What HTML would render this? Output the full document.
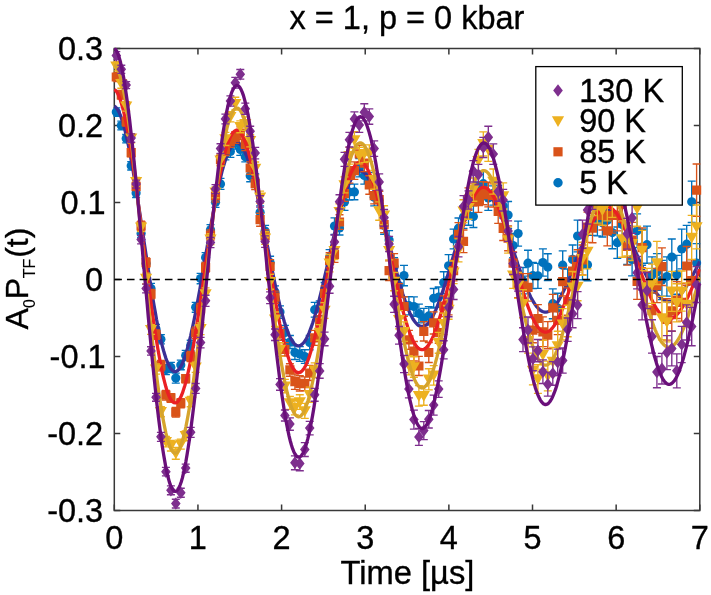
<!DOCTYPE html>
<html><head><meta charset="utf-8"><title>x = 1, p = 0 kbar</title>
<style>html,body{margin:0;padding:0;background:#fff}svg{will-change:transform}svg text{font-family:"Liberation Sans",sans-serif;fill:#000;stroke:#000;stroke-width:0.35px;stroke-linejoin:round}</style>
</head><body>
<svg width="711" height="595" viewBox="0 0 711 595" style="display:block">
<rect width="711" height="595" fill="#fff"/>
<defs><clipPath id="c"><rect x="113.6" y="47.8" width="586.9" height="463.4"/></clipPath></defs>
<rect x="114.3" y="48.5" width="585.5" height="462.0" fill="none" stroke="#383838" stroke-width="1.5"/>
<path d="M114.30 510.5v-6M114.30 48.5v6M197.94 510.5v-6M197.94 48.5v6M281.59 510.5v-6M281.59 48.5v6M365.23 510.5v-6M365.23 48.5v6M448.87 510.5v-6M448.87 48.5v6M532.51 510.5v-6M532.51 48.5v6M616.16 510.5v-6M616.16 48.5v6M699.80 510.5v-6M699.80 48.5v6M114.3 48.50h6M699.8 48.50h-6M114.3 125.50h6M699.8 125.50h-6M114.3 202.50h6M699.8 202.50h-6M114.3 279.50h6M699.8 279.50h-6M114.3 356.50h6M699.8 356.50h-6M114.3 433.50h6M699.8 433.50h-6M114.3 510.50h6M699.8 510.50h-6" stroke="#383838" stroke-width="1.5" fill="none"/>
<g>
<path d="M116.3 107.8v8.5M112.3 107.8h8.0M112.3 116.3h8.0M121.3 121.1v8.8M117.3 121.1h8.0M117.3 129.9h8.0M126.2 134.3v8.6M122.2 134.3h8.0M122.2 142.9h8.0M131.2 161.6v8.4M127.2 161.6h8.0M127.2 170.0h8.0M136.1 188.7v8.7M132.1 188.7h8.0M132.1 197.5h8.0M141.1 229.2v8.6M137.1 229.2h8.0M137.1 237.7h8.0M146.1 258.8v9.3M142.1 258.8h8.0M142.1 268.0h8.0M151.0 283.3v10.1M147.0 283.3h8.0M147.0 293.4h8.0M156.0 324.3v9.2M152.0 324.3h8.0M152.0 333.5h8.0M160.9 334.6v9.3M156.9 334.6h8.0M156.9 343.8h8.0M165.9 364.6v10.0M161.9 364.6h8.0M161.9 374.6h8.0M170.9 362.4v10.1M166.9 362.4h8.0M166.9 372.5h8.0M175.8 373.1v10.1M171.8 373.1h8.0M171.8 383.1h8.0M180.8 360.1v9.6M176.8 360.1h8.0M176.8 369.7h8.0M185.7 350.3v10.3M181.7 350.3h8.0M181.7 360.6h8.0M190.7 340.2v10.9M186.7 340.2h8.0M186.7 351.0h8.0M195.7 302.4v9.7M191.7 302.4h8.0M191.7 312.2h8.0M200.6 273.3v10.4M196.6 273.3h8.0M196.6 283.7h8.0M205.6 252.6v9.6M201.6 252.6h8.0M201.6 262.2h8.0M210.5 224.6v10.2M206.5 224.6h8.0M206.5 234.8h8.0M215.5 197.4v9.9M211.5 197.4h8.0M211.5 207.3h8.0M220.5 178.3v11.1M216.5 178.3h8.0M216.5 189.4h8.0M225.4 149.2v10.6M221.4 149.2h8.0M221.4 159.8h8.0M230.4 145.6v11.8M226.4 145.6h8.0M226.4 157.4h8.0M235.3 137.2v11.9M231.3 137.2h8.0M231.3 149.1h8.0M240.3 143.5v11.8M236.3 143.5h8.0M236.3 155.3h8.0M245.3 151.6v10.3M241.3 151.6h8.0M241.3 161.8h8.0M250.2 169.9v11.9M246.2 169.9h8.0M246.2 181.7h8.0M255.2 173.9v12.4M251.2 173.9h8.0M251.2 186.3h8.0M260.1 205.9v12.7M256.1 205.9h8.0M256.1 218.5h8.0M265.1 225.3v11.6M261.1 225.3h8.0M261.1 236.9h8.0M270.1 256.3v12.6M266.1 256.3h8.0M266.1 268.9h8.0M275.0 285.8v12.3M271.0 285.8h8.0M271.0 298.1h8.0M280.0 305.8v12.6M276.0 305.8h8.0M276.0 318.4h8.0M284.9 325.3v14.3M280.9 325.3h8.0M280.9 339.7h8.0M289.9 335.5v13.0M285.9 335.5h8.0M285.9 348.5h8.0M294.9 345.7v13.8M290.9 345.7h8.0M290.9 359.5h8.0M299.8 346.6v14.8M295.8 346.6h8.0M295.8 361.3h8.0M304.8 349.7v13.7M300.8 349.7h8.0M300.8 363.4h8.0M309.7 335.5v14.3M305.7 335.5h8.0M305.7 349.8h8.0M314.7 302.4v14.7M310.7 302.4h8.0M310.7 317.1h8.0M319.7 300.8v14.9M315.7 300.8h8.0M315.7 315.7h8.0M324.6 282.5v13.9M320.6 282.5h8.0M320.6 296.4h8.0M329.6 249.6v15.3M325.6 249.6h8.0M325.6 264.9h8.0M334.5 217.8v16.7M330.5 217.8h8.0M330.5 234.5h8.0M339.5 220.8v14.2M335.5 220.8h8.0M335.5 235.0h8.0M344.5 193.7v16.7M340.5 193.7h8.0M340.5 210.3h8.0M349.4 183.9v16.2M345.4 183.9h8.0M345.4 200.0h8.0M354.4 184.1v15.7M350.4 184.1h8.0M350.4 199.7h8.0M359.3 158.5v18.5M355.3 158.5h8.0M355.3 176.9h8.0M364.3 166.7v17.5M360.3 166.7h8.0M360.3 184.1h8.0M369.3 172.3v15.7M365.3 172.3h8.0M365.3 188.0h8.0M374.2 188.6v17.3M370.2 188.6h8.0M370.2 205.8h8.0M379.2 191.3v18.0M375.2 191.3h8.0M375.2 209.3h8.0M384.1 216.7v17.5M380.1 216.7h8.0M380.1 234.2h8.0M389.1 230.6v18.6M385.1 230.6h8.0M385.1 249.3h8.0M394.1 257.7v18.1M390.1 257.7h8.0M390.1 275.8h8.0M399.0 276.0v19.1M395.0 276.0h8.0M395.0 295.1h8.0M404.0 265.4v20.2M400.0 265.4h8.0M400.0 285.7h8.0M408.9 296.6v18.1M404.9 296.6h8.0M404.9 314.8h8.0M413.9 296.8v19.4M409.9 296.8h8.0M409.9 316.2h8.0M418.9 304.1v18.9M414.9 304.1h8.0M414.9 322.9h8.0M423.8 308.3v19.8M419.8 308.3h8.0M419.8 328.1h8.0M428.8 306.6v18.5M424.8 306.6h8.0M424.8 325.1h8.0M433.7 288.5v19.5M429.7 288.5h8.0M429.7 308.0h8.0M438.7 287.0v20.2M434.7 287.0h8.0M434.7 307.2h8.0M443.7 271.7v21.9M439.7 271.7h8.0M439.7 293.6h8.0M448.6 254.6v22.5M444.6 254.6h8.0M444.6 277.1h8.0M453.6 229.1v19.6M449.6 229.1h8.0M449.6 248.8h8.0M458.5 218.0v20.6M454.5 218.0h8.0M454.5 238.5h8.0M463.5 205.7v22.8M459.5 205.7h8.0M459.5 228.4h8.0M468.5 205.6v19.5M464.5 205.6h8.0M464.5 225.2h8.0M473.4 205.6v21.9M469.4 205.6h8.0M469.4 227.5h8.0M478.4 174.5v22.7M474.4 174.5h8.0M474.4 197.2h8.0M483.3 171.3v24.9M479.3 171.3h8.0M479.3 196.2h8.0M488.3 185.9v24.4M484.3 185.9h8.0M484.3 210.3h8.0M493.3 181.8v23.3M489.3 181.8h8.0M489.3 205.1h8.0M498.2 185.5v23.5M494.2 185.5h8.0M494.2 209.1h8.0M503.2 194.0v24.0M499.2 194.0h8.0M499.2 218.0h8.0M508.1 201.5v27.0M504.1 201.5h8.0M504.1 228.5h8.0M513.1 233.3v24.4M509.1 233.3h8.0M509.1 257.7h8.0M518.1 221.1v24.9M514.1 221.1h8.0M514.1 246.1h8.0M523.0 267.5v26.3M519.0 267.5h8.0M519.0 293.8h8.0M528.0 250.2v25.9M524.0 250.2h8.0M524.0 276.1h8.0M532.9 262.5v26.1M528.9 262.5h8.0M528.9 288.6h8.0M537.9 263.3v25.0M533.9 263.3h8.0M533.9 288.3h8.0M542.9 248.9v27.2M538.9 248.9h8.0M538.9 276.1h8.0M547.8 253.7v26.8M543.8 253.7h8.0M543.8 280.5h8.0M552.8 288.8v29.9M548.8 288.8h8.0M548.8 318.7h8.0M557.7 293.2v29.4M553.7 293.2h8.0M553.7 322.7h8.0M562.7 250.9v28.7M558.7 250.9h8.0M558.7 279.6h8.0M567.7 269.0v30.2M563.7 269.0h8.0M563.7 299.2h8.0M572.6 245.0v28.9M568.6 245.0h8.0M568.6 273.9h8.0M577.6 220.1v31.8M573.6 220.1h8.0M573.6 251.9h8.0M582.5 249.5v30.3M578.5 249.5h8.0M578.5 279.7h8.0M587.5 248.9v31.8M583.5 248.9h8.0M583.5 280.7h8.0M592.5 206.6v28.7M588.5 206.6h8.0M588.5 235.3h8.0M597.4 203.7v32.2M593.4 203.7h8.0M593.4 235.9h8.0M602.4 208.3v28.7M598.4 208.3h8.0M598.4 237.0h8.0M607.3 206.0v28.4M603.3 206.0h8.0M603.3 234.5h8.0M612.3 216.5v32.2M608.3 216.5h8.0M608.3 248.7h8.0M617.3 227.0v31.5M613.3 227.0h8.0M613.3 258.4h8.0M622.2 207.4v34.1M618.2 207.4h8.0M618.2 241.4h8.0M627.2 225.7v38.8M623.2 225.7h8.0M623.2 264.5h8.0M632.1 243.0v32.9M628.1 243.0h8.0M628.1 275.9h8.0M637.1 213.8v33.8M633.1 213.8h8.0M633.1 247.6h8.0M642.1 229.2v36.0M638.1 229.2h8.0M638.1 265.2h8.0M647.0 226.1v37.2M643.0 226.1h8.0M643.0 263.2h8.0M652.0 256.8v36.2M648.0 256.8h8.0M648.0 293.0h8.0M656.9 253.6v36.6M652.9 253.6h8.0M652.9 290.2h8.0M661.9 260.4v39.2M657.9 260.4h8.0M657.9 299.6h8.0M666.9 256.9v39.3M662.9 256.9h8.0M662.9 296.1h8.0M671.8 239.0v36.2M667.8 239.0h8.0M667.8 275.2h8.0M676.8 255.3v38.9M672.8 255.3h8.0M672.8 294.2h8.0M681.7 229.1v39.8M677.7 229.1h8.0M677.7 268.9h8.0M686.7 225.4v37.7M682.7 225.4h8.0M682.7 263.1h8.0M691.7 181.1v41.4M687.7 181.1h8.0M687.7 222.5h8.0M696.6 243.6v39.2M692.6 243.6h8.0M692.6 282.7h8.0" stroke="#0072BD" stroke-width="1.35" fill="none" clip-path="url(#c)"/>
<g fill="#0072BD"><circle cx="116.3" cy="112.0" r="4.6"/><circle cx="121.3" cy="125.5" r="4.6"/><circle cx="126.2" cy="138.6" r="4.6"/><circle cx="131.2" cy="165.8" r="4.6"/><circle cx="136.1" cy="193.1" r="4.6"/><circle cx="141.1" cy="233.5" r="4.6"/><circle cx="146.1" cy="263.4" r="4.6"/><circle cx="151.0" cy="288.4" r="4.6"/><circle cx="156.0" cy="328.9" r="4.6"/><circle cx="160.9" cy="339.2" r="4.6"/><circle cx="165.9" cy="369.6" r="4.6"/><circle cx="170.9" cy="367.4" r="4.6"/><circle cx="175.8" cy="378.1" r="4.6"/><circle cx="180.8" cy="364.9" r="4.6"/><circle cx="185.7" cy="355.5" r="4.6"/><circle cx="190.7" cy="345.6" r="4.6"/><circle cx="195.7" cy="307.3" r="4.6"/><circle cx="200.6" cy="278.5" r="4.6"/><circle cx="205.6" cy="257.4" r="4.6"/><circle cx="210.5" cy="229.7" r="4.6"/><circle cx="215.5" cy="202.3" r="4.6"/><circle cx="220.5" cy="183.9" r="4.6"/><circle cx="225.4" cy="154.5" r="4.6"/><circle cx="230.4" cy="151.5" r="4.6"/><circle cx="235.3" cy="143.2" r="4.6"/><circle cx="240.3" cy="149.4" r="4.6"/><circle cx="245.3" cy="156.7" r="4.6"/><circle cx="250.2" cy="175.8" r="4.6"/><circle cx="255.2" cy="180.1" r="4.6"/><circle cx="260.1" cy="212.2" r="4.6"/><circle cx="265.1" cy="231.1" r="4.6"/><circle cx="270.1" cy="262.6" r="4.6"/><circle cx="275.0" cy="291.9" r="4.6"/><circle cx="280.0" cy="312.1" r="4.6"/><circle cx="284.9" cy="332.5" r="4.6"/><circle cx="289.9" cy="342.0" r="4.6"/><circle cx="294.9" cy="352.6" r="4.6"/><circle cx="299.8" cy="354.0" r="4.6"/><circle cx="304.8" cy="356.5" r="4.6"/><circle cx="309.7" cy="342.6" r="4.6"/><circle cx="314.7" cy="309.7" r="4.6"/><circle cx="319.7" cy="308.2" r="4.6"/><circle cx="324.6" cy="289.4" r="4.6"/><circle cx="329.6" cy="257.2" r="4.6"/><circle cx="334.5" cy="226.1" r="4.6"/><circle cx="339.5" cy="227.9" r="4.6"/><circle cx="344.5" cy="202.0" r="4.6"/><circle cx="349.4" cy="192.0" r="4.6"/><circle cx="354.4" cy="191.9" r="4.6"/><circle cx="359.3" cy="167.7" r="4.6"/><circle cx="364.3" cy="175.4" r="4.6"/><circle cx="369.3" cy="180.2" r="4.6"/><circle cx="374.2" cy="197.2" r="4.6"/><circle cx="379.2" cy="200.3" r="4.6"/><circle cx="384.1" cy="225.5" r="4.6"/><circle cx="389.1" cy="240.0" r="4.6"/><circle cx="394.1" cy="266.8" r="4.6"/><circle cx="399.0" cy="285.6" r="4.6"/><circle cx="404.0" cy="275.6" r="4.6"/><circle cx="408.9" cy="305.7" r="4.6"/><circle cx="413.9" cy="306.5" r="4.6"/><circle cx="418.9" cy="313.5" r="4.6"/><circle cx="423.8" cy="318.2" r="4.6"/><circle cx="428.8" cy="315.9" r="4.6"/><circle cx="433.7" cy="298.3" r="4.6"/><circle cx="438.7" cy="297.1" r="4.6"/><circle cx="443.7" cy="282.6" r="4.6"/><circle cx="448.6" cy="265.8" r="4.6"/><circle cx="453.6" cy="238.9" r="4.6"/><circle cx="458.5" cy="228.2" r="4.6"/><circle cx="463.5" cy="217.1" r="4.6"/><circle cx="468.5" cy="215.4" r="4.6"/><circle cx="473.4" cy="216.5" r="4.6"/><circle cx="478.4" cy="185.8" r="4.6"/><circle cx="483.3" cy="183.7" r="4.6"/><circle cx="488.3" cy="198.1" r="4.6"/><circle cx="493.3" cy="193.4" r="4.6"/><circle cx="498.2" cy="197.3" r="4.6"/><circle cx="503.2" cy="206.0" r="4.6"/><circle cx="508.1" cy="215.0" r="4.6"/><circle cx="513.1" cy="245.5" r="4.6"/><circle cx="518.1" cy="233.6" r="4.6"/><circle cx="523.0" cy="280.7" r="4.6"/><circle cx="528.0" cy="263.2" r="4.6"/><circle cx="532.9" cy="275.6" r="4.6"/><circle cx="537.9" cy="275.8" r="4.6"/><circle cx="542.9" cy="262.5" r="4.6"/><circle cx="547.8" cy="267.1" r="4.6"/><circle cx="552.8" cy="303.7" r="4.6"/><circle cx="557.7" cy="308.0" r="4.6"/><circle cx="562.7" cy="265.2" r="4.6"/><circle cx="567.7" cy="284.1" r="4.6"/><circle cx="572.6" cy="259.4" r="4.6"/><circle cx="577.6" cy="236.0" r="4.6"/><circle cx="582.5" cy="264.6" r="4.6"/><circle cx="587.5" cy="264.8" r="4.6"/><circle cx="592.5" cy="221.0" r="4.6"/><circle cx="597.4" cy="219.8" r="4.6"/><circle cx="602.4" cy="222.7" r="4.6"/><circle cx="607.3" cy="220.3" r="4.6"/><circle cx="612.3" cy="232.6" r="4.6"/><circle cx="617.3" cy="242.7" r="4.6"/><circle cx="622.2" cy="224.4" r="4.6"/><circle cx="627.2" cy="245.1" r="4.6"/><circle cx="632.1" cy="259.4" r="4.6"/><circle cx="637.1" cy="230.7" r="4.6"/><circle cx="642.1" cy="247.2" r="4.6"/><circle cx="647.0" cy="244.7" r="4.6"/><circle cx="652.0" cy="274.9" r="4.6"/><circle cx="656.9" cy="271.9" r="4.6"/><circle cx="661.9" cy="280.0" r="4.6"/><circle cx="666.9" cy="276.5" r="4.6"/><circle cx="671.8" cy="257.1" r="4.6"/><circle cx="676.8" cy="274.8" r="4.6"/><circle cx="681.7" cy="249.0" r="4.6"/><circle cx="686.7" cy="244.2" r="4.6"/><circle cx="691.7" cy="201.8" r="4.6"/><circle cx="696.6" cy="263.1" r="4.6"/></g>
<polyline points="114.3,106.3 115.5,107.0 116.6,108.2 117.8,109.9 119.0,112.1 120.2,114.8 121.3,117.9 122.5,121.4 123.7,125.4 124.9,129.8 126.0,134.6 127.2,139.8 128.4,145.3 129.6,151.2 130.7,157.4 131.9,163.8 133.1,170.6 134.2,177.6 135.4,184.7 136.6,192.1 137.8,199.6 138.9,207.3 140.1,215.1 141.3,222.9 142.5,230.8 143.6,238.7 144.8,246.6 146.0,254.5 147.2,262.3 148.3,270.0 149.5,277.6 150.7,285.1 151.8,292.4 153.0,299.4 154.2,306.3 155.4,312.9 156.5,319.3 157.7,325.4 158.9,331.1 160.1,336.6 161.2,341.7 162.4,346.4 163.6,350.8 164.8,354.8 165.9,358.3 167.1,361.5 168.3,364.3 169.4,366.6 170.6,368.5 171.8,369.9 173.0,370.9 174.1,371.5 175.3,371.6 176.5,371.3 177.7,370.6 178.8,369.4 180.0,367.8 181.2,365.8 182.4,363.4 183.5,360.6 184.7,357.4 185.9,353.8 187.0,349.9 188.2,345.6 189.4,341.0 190.6,336.1 191.7,330.9 192.9,325.5 194.1,319.8 195.3,313.9 196.4,307.8 197.6,301.5 198.8,295.1 200.0,288.5 201.1,281.8 202.3,275.0 203.5,268.2 204.6,261.4 205.8,254.5 207.0,247.7 208.2,240.9 209.3,234.1 210.5,227.5 211.7,220.9 212.9,214.5 214.0,208.3 215.2,202.2 216.4,196.4 217.6,190.7 218.7,185.3 219.9,180.2 221.1,175.3 222.2,170.7 223.4,166.5 224.6,162.5 225.8,158.9 226.9,155.6 228.1,152.6 229.3,150.1 230.5,147.9 231.6,146.1 232.8,144.6 234.0,143.5 235.2,142.9 236.3,142.6 237.5,142.7 238.7,143.1 239.8,144.0 241.0,145.2 242.2,146.8 243.4,148.8 244.5,151.1 245.7,153.8 246.9,156.7 248.1,160.0 249.2,163.6 250.4,167.5 251.6,171.7 252.8,176.2 253.9,180.8 255.1,185.7 256.3,190.8 257.4,196.1 258.6,201.6 259.8,207.2 261.0,213.0 262.1,218.8 263.3,224.7 264.5,230.7 265.7,236.8 266.8,242.8 268.0,248.9 269.2,254.9 270.4,260.9 271.5,266.8 272.7,272.6 273.9,278.3 275.0,283.9 276.2,289.4 277.4,294.7 278.6,299.8 279.7,304.7 280.9,309.4 282.1,313.9 283.3,318.1 284.4,322.0 285.6,325.7 286.8,329.1 288.0,332.3 289.1,335.1 290.3,337.6 291.5,339.7 292.6,341.6 293.8,343.1 295.0,344.3 296.2,345.1 297.3,345.7 298.5,345.8 299.7,345.7 300.9,345.2 302.0,344.4 303.2,343.2 304.4,341.8 305.6,340.0 306.7,337.9 307.9,335.5 309.1,332.8 310.2,329.9 311.4,326.7 312.6,323.3 313.8,319.6 314.9,315.7 316.1,311.6 317.3,307.2 318.5,302.8 319.6,298.1 320.8,293.4 322.0,288.5 323.2,283.5 324.3,278.4 325.5,273.2 326.7,268.0 327.8,262.8 329.0,257.5 330.2,252.3 331.4,247.1 332.5,242.0 333.7,236.9 334.9,231.9 336.1,226.9 337.2,222.1 338.4,217.5 339.6,213.0 340.8,208.6 341.9,204.5 343.1,200.5 344.3,196.7 345.4,193.2 346.6,189.8 347.8,186.8 349.0,183.9 350.1,181.4 351.3,179.1 352.5,177.1 353.7,175.3 354.8,173.9 356.0,172.7 357.2,171.8 358.4,171.3 359.5,171.0 360.7,171.0 361.9,171.3 363.0,171.9 364.2,172.8 365.4,173.9 366.6,175.4 367.7,177.1 368.9,179.1 370.1,181.3 371.3,183.8 372.4,186.5 373.6,189.4 374.8,192.6 376.0,195.9 377.1,199.5 378.3,203.2 379.5,207.1 380.6,211.1 381.8,215.2 383.0,219.5 384.2,223.9 385.3,228.3 386.5,232.8 387.7,237.4 388.9,242.0 390.0,246.7 391.2,251.3 392.4,255.9 393.6,260.5 394.7,265.0 395.9,269.5 397.1,273.9 398.2,278.2 399.4,282.4 400.6,286.5 401.8,290.4 402.9,294.2 404.1,297.9 405.3,301.3 406.5,304.6 407.6,307.7 408.8,310.5 410.0,313.2 411.2,315.6 412.3,317.8 413.5,319.8 414.7,321.5 415.9,323.0 417.0,324.2 418.2,325.2 419.4,325.9 420.5,326.3 421.7,326.5 422.9,326.5 424.1,326.1 425.2,325.6 426.4,324.8 427.6,323.7 428.8,322.4 429.9,320.9 431.1,319.1 432.3,317.1 433.5,314.9 434.6,312.5 435.8,309.9 437.0,307.1 438.1,304.2 439.3,301.1 440.5,297.8 441.7,294.4 442.8,290.9 444.0,287.3 445.2,283.6 446.4,279.8 447.5,275.9 448.7,272.0 449.9,268.0 451.1,264.0 452.2,260.0 453.4,256.0 454.6,252.0 455.7,248.1 456.9,244.2 458.1,240.3 459.3,236.6 460.4,232.9 461.6,229.3 462.8,225.8 464.0,222.5 465.1,219.3 466.3,216.2 467.5,213.3 468.7,210.5 469.8,208.0 471.0,205.6 472.2,203.4 473.3,201.4 474.5,199.6 475.7,198.0 476.9,196.6 478.0,195.5 479.2,194.5 480.4,193.8 481.6,193.3 482.7,193.1 483.9,193.0 485.1,193.2 486.3,193.6 487.4,194.3 488.6,195.1 489.8,196.2 490.9,197.4 492.1,198.9 493.3,200.6 494.5,202.4 495.6,204.5 496.8,206.7 498.0,209.1 499.2,211.6 500.3,214.3 501.5,217.1 502.7,220.0 503.9,223.1 505.0,226.3 506.2,229.5 507.4,232.8 508.5,236.2 509.7,239.7 510.9,243.2 512.1,246.7 513.2,250.2 514.4,253.8 515.6,257.3 516.8,260.8 517.9,264.3 519.1,267.7 520.3,271.1 521.5,274.4 522.6,277.7 523.8,280.8 525.0,283.9 526.1,286.8 527.3,289.6 528.5,292.3 529.7,294.8 530.8,297.2 532.0,299.4 533.2,301.5 534.4,303.4 535.5,305.1 536.7,306.7 537.9,308.0 539.1,309.2 540.2,310.2 541.4,311.0 542.6,311.5 543.7,311.9 544.9,312.1 546.1,312.1 547.3,311.9 548.4,311.5 549.6,311.0 550.8,310.2 552.0,309.2 553.1,308.1 554.3,306.8 555.5,305.3 556.7,303.7 557.8,301.9 559.0,299.9 560.2,297.8 561.3,295.6 562.5,293.3 563.7,290.8 564.9,288.2 566.0,285.6 567.2,282.8 568.4,280.0 569.6,277.1 570.7,274.2 571.9,271.2 573.1,268.2 574.3,265.1 575.4,262.1 576.6,259.0 577.8,256.0 578.9,252.9 580.1,249.9 581.3,247.0 582.5,244.1 583.6,241.3 584.8,238.5 586.0,235.9 587.2,233.3 588.3,230.8 589.5,228.4 590.7,226.2 591.9,224.1 593.0,222.1 594.2,220.2 595.4,218.5 596.5,217.0 597.7,215.6 598.9,214.3 600.1,213.2 601.2,212.3 602.4,211.6 603.6,211.0 604.8,210.6 605.9,210.3 607.1,210.3 608.3,210.4 609.5,210.7 610.6,211.1 611.8,211.7 613.0,212.5 614.1,213.4 615.3,214.5 616.5,215.8 617.7,217.2 618.8,218.7 620.0,220.4 621.2,222.2 622.4,224.1 623.5,226.1 624.7,228.2 625.9,230.5 627.1,232.8 628.2,235.2 629.4,237.7 630.6,240.2 631.7,242.8 632.9,245.4 634.1,248.1 635.3,250.8 636.4,253.5 637.6,256.2 638.8,258.9 640.0,261.6 641.1,264.3 642.3,266.9 643.5,269.5 644.7,272.1 645.8,274.6 647.0,277.0 648.2,279.3 649.3,281.6 650.5,283.7 651.7,285.8 652.9,287.8 654.0,289.6 655.2,291.4 656.4,293.0 657.6,294.5 658.7,295.8 659.9,297.0 661.1,298.1 662.3,299.0 663.4,299.8 664.6,300.5 665.8,300.9 666.9,301.3 668.1,301.5 669.3,301.5 670.5,301.4 671.6,301.1 672.8,300.7 674.0,300.2 675.2,299.5 676.3,298.6 677.5,297.7 678.7,296.6 679.9,295.3 681.0,294.0 682.2,292.5 683.4,291.0 684.5,289.3 685.7,287.5 686.9,285.6 688.1,283.7 689.2,281.7 690.4,279.6 691.6,277.5 692.8,275.3 693.9,273.0 695.1,270.7 696.3,268.4 697.5,266.1 698.6,263.8 699.8,261.5" fill="none" stroke="#3B3096" stroke-width="3.3" stroke-linejoin="round" clip-path="url(#c)"/>
<path d="M116.3 72.5v9.0M112.3 72.5h8.0M112.3 81.5h8.0M121.3 90.5v8.6M117.3 90.5h8.0M117.3 99.1h8.0M126.2 117.3v8.7M122.2 117.3h8.0M122.2 126.1h8.0M131.2 148.6v8.1M127.2 148.6h8.0M127.2 156.7h8.0M136.1 181.9v8.7M132.1 181.9h8.0M132.1 190.6h8.0M141.1 221.1v9.5M137.1 221.1h8.0M137.1 230.6h8.0M146.1 258.0v9.2M142.1 258.0h8.0M142.1 267.2h8.0M151.0 289.5v9.4M147.0 289.5h8.0M147.0 298.9h8.0M156.0 329.9v9.3M152.0 329.9h8.0M152.0 339.2h8.0M160.9 360.5v10.3M156.9 360.5h8.0M156.9 370.8h8.0M165.9 390.4v9.7M161.9 390.4h8.0M161.9 400.1h8.0M170.9 393.6v8.6M166.9 393.6h8.0M166.9 402.2h8.0M175.8 407.4v9.6M171.8 407.4h8.0M171.8 417.0h8.0M180.8 398.7v9.0M176.8 398.7h8.0M176.8 407.7h8.0M185.7 374.6v8.3M181.7 374.6h8.0M181.7 382.9h8.0M190.7 351.5v10.1M186.7 351.5h8.0M186.7 361.6h8.0M195.7 327.1v11.4M191.7 327.1h8.0M191.7 338.5h8.0M200.6 303.5v10.7M196.6 303.5h8.0M196.6 314.3h8.0M205.6 262.3v10.1M201.6 262.3h8.0M201.6 272.4h8.0M210.5 229.8v10.4M206.5 229.8h8.0M206.5 240.2h8.0M215.5 190.1v11.9M211.5 190.1h8.0M211.5 202.0h8.0M220.5 153.9v11.4M216.5 153.9h8.0M216.5 165.3h8.0M225.4 144.1v11.5M221.4 144.1h8.0M221.4 155.6h8.0M230.4 135.6v11.6M226.4 135.6h8.0M226.4 147.2h8.0M235.3 131.6v11.8M231.3 131.6h8.0M231.3 143.4h8.0M240.3 126.9v12.5M236.3 126.9h8.0M236.3 139.4h8.0M245.3 138.1v12.5M241.3 138.1h8.0M241.3 150.6h8.0M250.2 161.8v12.4M246.2 161.8h8.0M246.2 174.2h8.0M255.2 177.9v11.6M251.2 177.9h8.0M251.2 189.5h8.0M260.1 213.2v13.0M256.1 213.2h8.0M256.1 226.2h8.0M265.1 229.8v12.2M261.1 229.8h8.0M261.1 242.0h8.0M270.1 259.6v13.8M266.1 259.6h8.0M266.1 273.4h8.0M275.0 291.1v12.1M271.0 291.1h8.0M271.0 303.2h8.0M280.0 327.1v13.2M276.0 327.1h8.0M276.0 340.3h8.0M284.9 342.6v13.5M280.9 342.6h8.0M280.9 356.0h8.0M289.9 363.7v12.6M285.9 363.7h8.0M285.9 376.2h8.0M294.9 374.0v15.3M290.9 374.0h8.0M290.9 389.3h8.0M299.8 375.7v15.3M295.8 375.7h8.0M295.8 391.0h8.0M304.8 376.8v13.8M300.8 376.8h8.0M300.8 390.6h8.0M309.7 365.4v15.1M305.7 365.4h8.0M305.7 380.5h8.0M314.7 330.3v14.9M310.7 330.3h8.0M310.7 345.3h8.0M319.7 315.9v12.5M315.7 315.9h8.0M315.7 328.3h8.0M324.6 285.8v15.2M320.6 285.8h8.0M320.6 301.1h8.0M329.6 252.7v15.2M325.6 252.7h8.0M325.6 267.9h8.0M334.5 246.8v15.5M330.5 246.8h8.0M330.5 262.3h8.0M339.5 214.7v14.6M335.5 214.7h8.0M335.5 229.3h8.0M344.5 185.8v15.6M340.5 185.8h8.0M340.5 201.4h8.0M349.4 167.3v15.9M345.4 167.3h8.0M345.4 183.1h8.0M354.4 161.9v17.4M350.4 161.9h8.0M350.4 179.3h8.0M359.3 145.4v16.8M355.3 145.4h8.0M355.3 162.2h8.0M364.3 154.8v16.7M360.3 154.8h8.0M360.3 171.6h8.0M369.3 175.7v18.5M365.3 175.7h8.0M365.3 194.2h8.0M374.2 187.3v16.6M370.2 187.3h8.0M370.2 203.9h8.0M379.2 191.2v17.0M375.2 191.2h8.0M375.2 208.2h8.0M384.1 216.9v15.7M380.1 216.9h8.0M380.1 232.6h8.0M389.1 260.9v19.6M385.1 260.9h8.0M385.1 280.5h8.0M394.1 253.6v19.2M390.1 253.6h8.0M390.1 272.8h8.0M399.0 283.6v19.4M395.0 283.6h8.0M395.0 303.0h8.0M404.0 296.8v19.4M400.0 296.8h8.0M400.0 316.2h8.0M408.9 330.4v19.0M404.9 330.4h8.0M404.9 349.4h8.0M413.9 341.5v19.4M409.9 341.5h8.0M409.9 360.9h8.0M418.9 356.4v19.1M414.9 356.4h8.0M414.9 375.5h8.0M423.8 321.6v19.4M419.8 321.6h8.0M419.8 341.0h8.0M428.8 342.5v20.0M424.8 342.5h8.0M424.8 362.5h8.0M433.7 311.9v22.0M429.7 311.9h8.0M429.7 334.0h8.0M438.7 322.1v21.2M434.7 322.1h8.0M434.7 343.2h8.0M443.7 295.8v20.7M439.7 295.8h8.0M439.7 316.5h8.0M448.6 294.5v20.3M444.6 294.5h8.0M444.6 314.9h8.0M453.6 260.4v20.5M449.6 260.4h8.0M449.6 280.9h8.0M458.5 222.6v23.7M454.5 222.6h8.0M454.5 246.3h8.0M463.5 230.0v22.6M459.5 230.0h8.0M459.5 252.6h8.0M468.5 187.9v22.3M464.5 187.9h8.0M464.5 210.2h8.0M473.4 183.9v22.0M469.4 183.9h8.0M469.4 205.9h8.0M478.4 191.1v21.3M474.4 191.1h8.0M474.4 212.4h8.0M483.3 181.7v23.0M479.3 181.7h8.0M479.3 204.7h8.0M488.3 182.2v24.7M484.3 182.2h8.0M484.3 206.9h8.0M493.3 183.9v23.2M489.3 183.9h8.0M489.3 207.1h8.0M498.2 199.6v23.7M494.2 199.6h8.0M494.2 223.3h8.0M503.2 216.5v24.1M499.2 216.5h8.0M499.2 240.5h8.0M508.1 225.8v24.9M504.1 225.8h8.0M504.1 250.7h8.0M513.1 251.9v22.7M509.1 251.9h8.0M509.1 274.6h8.0M518.1 272.5v25.1M514.1 272.5h8.0M514.1 297.6h8.0M523.0 273.6v24.4M519.0 273.6h8.0M519.0 298.0h8.0M528.0 273.6v27.5M524.0 273.6h8.0M524.0 301.1h8.0M532.9 317.5v25.2M528.9 317.5h8.0M528.9 342.7h8.0M537.9 304.6v27.7M533.9 304.6h8.0M533.9 332.3h8.0M542.9 316.9v29.7M538.9 316.9h8.0M538.9 346.6h8.0M547.8 321.6v27.0M543.8 321.6h8.0M543.8 348.7h8.0M552.8 294.4v26.9M548.8 294.4h8.0M548.8 321.3h8.0M557.7 305.9v28.6M553.7 305.9h8.0M553.7 334.6h8.0M562.7 267.3v28.7M558.7 267.3h8.0M558.7 296.0h8.0M567.7 287.9v27.3M563.7 287.9h8.0M563.7 315.2h8.0M572.6 256.1v30.3M568.6 256.1h8.0M568.6 286.3h8.0M577.6 249.7v33.5M573.6 249.7h8.0M573.6 283.2h8.0M582.5 245.0v29.8M578.5 245.0h8.0M578.5 274.9h8.0M587.5 212.1v30.3M583.5 212.1h8.0M583.5 242.4h8.0M592.5 213.5v29.2M588.5 213.5h8.0M588.5 242.7h8.0M597.4 192.7v32.1M593.4 192.7h8.0M593.4 224.9h8.0M602.4 200.5v29.6M598.4 200.5h8.0M598.4 230.0h8.0M607.3 215.7v30.2M603.3 215.7h8.0M603.3 245.9h8.0M612.3 197.8v35.4M608.3 197.8h8.0M608.3 233.1h8.0M617.3 199.5v31.5M613.3 199.5h8.0M613.3 230.9h8.0M622.2 186.4v35.9M618.2 186.4h8.0M618.2 222.3h8.0M627.2 227.8v37.3M623.2 227.8h8.0M623.2 265.1h8.0M632.1 222.4v35.2M628.1 222.4h8.0M628.1 257.6h8.0M637.1 263.1v36.3M633.1 263.1h8.0M633.1 299.4h8.0M642.1 227.9v39.8M638.1 227.9h8.0M638.1 267.6h8.0M647.0 272.0v35.7M643.0 272.0h8.0M643.0 307.7h8.0M652.0 292.9v35.3M648.0 292.9h8.0M648.0 328.2h8.0M656.9 268.5v34.1M652.9 268.5h8.0M652.9 302.6h8.0M661.9 247.9v37.7M657.9 247.9h8.0M657.9 285.5h8.0M666.9 298.7v41.5M662.9 298.7h8.0M662.9 340.1h8.0M671.8 290.5v40.8M667.8 290.5h8.0M667.8 331.3h8.0M676.8 281.6v36.9M672.8 281.6h8.0M672.8 318.5h8.0M681.7 283.5v37.6M677.7 283.5h8.0M677.7 321.1h8.0M686.7 246.5v39.0M682.7 246.5h8.0M682.7 285.4h8.0M691.7 259.8v41.5M687.7 259.8h8.0M687.7 301.2h8.0M696.6 164.0v52.4M692.6 164.0h8.0M692.6 216.4h8.0" stroke="#D95319" stroke-width="1.35" fill="none" clip-path="url(#c)"/>
<path d="M111.7 72.4h9.2v9.2h-9.2zM116.7 90.2h9.2v9.2h-9.2zM121.6 117.1h9.2v9.2h-9.2zM126.6 148.1h9.2v9.2h-9.2zM131.5 181.7h9.2v9.2h-9.2zM136.5 221.3h9.2v9.2h-9.2zM141.5 258.0h9.2v9.2h-9.2zM146.4 289.6h9.2v9.2h-9.2zM151.4 330.0h9.2v9.2h-9.2zM156.3 361.0h9.2v9.2h-9.2zM161.3 390.6h9.2v9.2h-9.2zM166.3 393.3h9.2v9.2h-9.2zM171.2 407.6h9.2v9.2h-9.2zM176.2 398.6h9.2v9.2h-9.2zM181.1 374.1h9.2v9.2h-9.2zM186.1 352.0h9.2v9.2h-9.2zM191.1 328.2h9.2v9.2h-9.2zM196.0 304.3h9.2v9.2h-9.2zM201.0 262.8h9.2v9.2h-9.2zM205.9 230.4h9.2v9.2h-9.2zM210.9 191.4h9.2v9.2h-9.2zM215.9 155.0h9.2v9.2h-9.2zM220.8 145.2h9.2v9.2h-9.2zM225.8 136.8h9.2v9.2h-9.2zM230.7 132.9h9.2v9.2h-9.2zM235.7 128.6h9.2v9.2h-9.2zM240.7 139.8h9.2v9.2h-9.2zM245.6 163.4h9.2v9.2h-9.2zM250.6 179.1h9.2v9.2h-9.2zM255.5 215.1h9.2v9.2h-9.2zM260.5 231.3h9.2v9.2h-9.2zM265.5 261.9h9.2v9.2h-9.2zM270.4 292.6h9.2v9.2h-9.2zM275.4 329.1h9.2v9.2h-9.2zM280.3 344.7h9.2v9.2h-9.2zM285.3 365.3h9.2v9.2h-9.2zM290.3 377.1h9.2v9.2h-9.2zM295.2 378.7h9.2v9.2h-9.2zM300.2 379.1h9.2v9.2h-9.2zM305.1 368.4h9.2v9.2h-9.2zM310.1 333.2h9.2v9.2h-9.2zM315.1 317.5h9.2v9.2h-9.2zM320.0 288.8h9.2v9.2h-9.2zM325.0 255.7h9.2v9.2h-9.2zM329.9 249.9h9.2v9.2h-9.2zM334.9 217.4h9.2v9.2h-9.2zM339.9 189.0h9.2v9.2h-9.2zM344.8 170.6h9.2v9.2h-9.2zM349.8 166.0h9.2v9.2h-9.2zM354.7 149.2h9.2v9.2h-9.2zM359.7 158.6h9.2v9.2h-9.2zM364.7 180.4h9.2v9.2h-9.2zM369.6 191.0h9.2v9.2h-9.2zM374.6 195.1h9.2v9.2h-9.2zM379.5 220.1h9.2v9.2h-9.2zM384.5 266.1h9.2v9.2h-9.2zM389.5 258.6h9.2v9.2h-9.2zM394.4 288.7h9.2v9.2h-9.2zM399.4 301.9h9.2v9.2h-9.2zM404.3 335.3h9.2v9.2h-9.2zM409.3 346.6h9.2v9.2h-9.2zM414.3 361.4h9.2v9.2h-9.2zM419.2 326.7h9.2v9.2h-9.2zM424.2 347.9h9.2v9.2h-9.2zM429.1 318.3h9.2v9.2h-9.2zM434.1 328.1h9.2v9.2h-9.2zM439.1 301.6h9.2v9.2h-9.2zM444.0 300.1h9.2v9.2h-9.2zM449.0 266.0h9.2v9.2h-9.2zM453.9 229.8h9.2v9.2h-9.2zM458.9 236.7h9.2v9.2h-9.2zM463.9 194.5h9.2v9.2h-9.2zM468.8 190.3h9.2v9.2h-9.2zM473.8 197.1h9.2v9.2h-9.2zM478.7 188.6h9.2v9.2h-9.2zM483.7 190.0h9.2v9.2h-9.2zM488.7 190.9h9.2v9.2h-9.2zM493.6 206.8h9.2v9.2h-9.2zM498.6 223.9h9.2v9.2h-9.2zM503.5 233.6h9.2v9.2h-9.2zM508.5 258.6h9.2v9.2h-9.2zM513.5 280.4h9.2v9.2h-9.2zM518.4 281.2h9.2v9.2h-9.2zM523.4 282.7h9.2v9.2h-9.2zM528.3 325.5h9.2v9.2h-9.2zM533.3 313.9h9.2v9.2h-9.2zM538.3 327.2h9.2v9.2h-9.2zM543.2 330.6h9.2v9.2h-9.2zM548.2 303.2h9.2v9.2h-9.2zM553.1 315.7h9.2v9.2h-9.2zM558.1 277.0h9.2v9.2h-9.2zM563.1 296.9h9.2v9.2h-9.2zM568.0 266.6h9.2v9.2h-9.2zM573.0 261.9h9.2v9.2h-9.2zM577.9 255.4h9.2v9.2h-9.2zM582.9 222.6h9.2v9.2h-9.2zM587.9 223.5h9.2v9.2h-9.2zM592.8 204.2h9.2v9.2h-9.2zM597.8 210.7h9.2v9.2h-9.2zM602.7 226.2h9.2v9.2h-9.2zM607.7 210.8h9.2v9.2h-9.2zM612.7 210.6h9.2v9.2h-9.2zM617.6 199.7h9.2v9.2h-9.2zM622.6 241.9h9.2v9.2h-9.2zM627.5 235.4h9.2v9.2h-9.2zM632.5 276.7h9.2v9.2h-9.2zM637.5 243.1h9.2v9.2h-9.2zM642.4 285.2h9.2v9.2h-9.2zM647.4 306.0h9.2v9.2h-9.2zM652.3 281.0h9.2v9.2h-9.2zM657.3 262.1h9.2v9.2h-9.2zM662.3 314.8h9.2v9.2h-9.2zM667.2 306.3h9.2v9.2h-9.2zM672.2 295.5h9.2v9.2h-9.2zM677.1 297.7h9.2v9.2h-9.2zM682.1 261.4h9.2v9.2h-9.2zM687.1 275.9h9.2v9.2h-9.2zM692.0 185.6h9.2v9.2h-9.2z" fill="#D95319"/>
<polyline points="114.3,89.5 115.5,90.3 116.6,91.7 117.8,93.7 119.0,96.3 120.2,99.4 121.3,103.0 122.5,107.2 123.7,111.9 124.9,117.1 126.0,122.7 127.2,128.8 128.4,135.3 129.6,142.3 130.7,149.5 131.9,157.2 133.1,165.1 134.2,173.3 135.4,181.8 136.6,190.5 137.8,199.4 138.9,208.4 140.1,217.6 141.3,226.9 142.5,236.2 143.6,245.6 144.8,254.9 146.0,264.2 147.2,273.4 148.3,282.5 149.5,291.5 150.7,300.3 151.8,308.9 153.0,317.3 154.2,325.5 155.4,333.3 156.5,340.8 157.7,348.0 158.9,354.8 160.1,361.3 161.2,367.3 162.4,373.0 163.6,378.1 164.8,382.8 165.9,387.1 167.1,390.9 168.3,394.1 169.4,396.9 170.6,399.1 171.8,400.9 173.0,402.1 174.1,402.7 175.3,402.9 176.5,402.6 177.7,401.7 178.8,400.3 180.0,398.4 181.2,396.0 182.4,393.2 183.5,389.8 184.7,386.0 185.9,381.8 187.0,377.1 188.2,372.1 189.4,366.6 190.6,360.8 191.7,354.7 192.9,348.2 194.1,341.5 195.3,334.5 196.4,327.2 197.6,319.7 198.8,312.1 200.0,304.3 201.1,296.3 202.3,288.3 203.5,280.2 204.6,272.0 205.8,263.9 207.0,255.7 208.2,247.6 209.3,239.6 210.5,231.7 211.7,223.9 212.9,216.3 214.0,208.9 215.2,201.6 216.4,194.6 217.6,187.9 218.7,181.5 219.9,175.3 221.1,169.5 222.2,164.0 223.4,158.9 224.6,154.2 225.8,149.9 226.9,145.9 228.1,142.4 229.3,139.3 230.5,136.7 231.6,134.5 232.8,132.8 234.0,131.5 235.2,130.7 236.3,130.3 237.5,130.4 238.7,130.9 239.8,131.9 241.0,133.4 242.2,135.3 243.4,137.6 244.5,140.3 245.7,143.5 246.9,147.0 248.1,150.9 249.2,155.2 250.4,159.8 251.6,164.8 252.8,170.1 253.9,175.6 255.1,181.5 256.3,187.6 257.4,193.9 258.6,200.4 259.8,207.1 261.0,213.9 262.1,220.9 263.3,228.0 264.5,235.1 265.7,242.3 266.8,249.5 268.0,256.7 269.2,263.9 270.4,271.1 271.5,278.1 272.7,285.1 273.9,292.0 275.0,298.6 276.2,305.2 277.4,311.5 278.6,317.6 279.7,323.5 280.9,329.1 282.1,334.4 283.3,339.5 284.4,344.2 285.6,348.6 286.8,352.7 288.0,356.4 289.1,359.8 290.3,362.8 291.5,365.4 292.6,367.6 293.8,369.4 295.0,370.9 296.2,371.9 297.3,372.5 298.5,372.7 299.7,372.5 300.9,371.9 302.0,371.0 303.2,369.6 304.4,367.8 305.6,365.7 306.7,363.2 307.9,360.4 309.1,357.2 310.2,353.6 311.4,349.8 312.6,345.7 313.8,341.2 314.9,336.6 316.1,331.6 317.3,326.5 318.5,321.1 319.6,315.5 320.8,309.8 322.0,303.9 323.2,297.9 324.3,291.8 325.5,285.6 326.7,279.3 327.8,273.1 329.0,266.8 330.2,260.5 331.4,254.2 332.5,248.0 333.7,241.9 334.9,235.8 336.1,229.9 337.2,224.2 338.4,218.5 339.6,213.1 340.8,207.9 341.9,202.8 343.1,198.0 344.3,193.5 345.4,189.2 346.6,185.2 347.8,181.5 349.0,178.1 350.1,175.0 351.3,172.2 352.5,169.8 353.7,167.6 354.8,165.9 356.0,164.5 357.2,163.4 358.4,162.7 359.5,162.3 360.7,162.3 361.9,162.7 363.0,163.4 364.2,164.4 365.4,165.8 366.6,167.5 367.7,169.6 368.9,171.9 370.1,174.6 371.3,177.6 372.4,180.8 373.6,184.3 374.8,188.1 376.0,192.2 377.1,196.4 378.3,200.9 379.5,205.5 380.6,210.4 381.8,215.4 383.0,220.5 384.2,225.8 385.3,231.1 386.5,236.6 387.7,242.1 388.9,247.7 390.0,253.2 391.2,258.8 392.4,264.4 393.6,269.9 394.7,275.4 395.9,280.8 397.1,286.1 398.2,291.3 399.4,296.4 400.6,301.3 401.8,306.0 402.9,310.6 404.1,315.0 405.3,319.2 406.5,323.1 407.6,326.8 408.8,330.3 410.0,333.5 411.2,336.5 412.3,339.1 413.5,341.5 414.7,343.6 415.9,345.4 417.0,346.8 418.2,348.0 419.4,348.9 420.5,349.4 421.7,349.7 422.9,349.6 424.1,349.2 425.2,348.5 426.4,347.5 427.6,346.2 428.8,344.6 429.9,342.8 431.1,340.6 432.3,338.2 433.5,335.6 434.6,332.7 435.8,329.5 437.0,326.2 438.1,322.6 439.3,318.8 440.5,314.9 441.7,310.7 442.8,306.5 444.0,302.1 445.2,297.6 446.4,292.9 447.5,288.2 448.7,283.5 449.9,278.7 451.1,273.8 452.2,269.0 453.4,264.1 454.6,259.3 455.7,254.5 456.9,249.7 458.1,245.0 459.3,240.4 460.4,236.0 461.6,231.6 462.8,227.4 464.0,223.3 465.1,219.4 466.3,215.6 467.5,212.1 468.7,208.7 469.8,205.6 471.0,202.7 472.2,200.0 473.3,197.6 474.5,195.4 475.7,193.4 476.9,191.7 478.0,190.3 479.2,189.2 480.4,188.3 481.6,187.7 482.7,187.3 483.9,187.3 485.1,187.5 486.3,188.0 487.4,188.7 488.6,189.7 489.8,191.0 490.9,192.5 492.1,194.3 493.3,196.3 494.5,198.6 495.6,201.0 496.8,203.7 498.0,206.6 499.2,209.7 500.3,212.9 501.5,216.3 502.7,219.9 503.9,223.6 505.0,227.5 506.2,231.4 507.4,235.5 508.5,239.6 509.7,243.8 510.9,248.0 512.1,252.3 513.2,256.6 514.4,260.9 515.6,265.2 516.8,269.5 517.9,273.8 519.1,278.0 520.3,282.1 521.5,286.1 522.6,290.1 523.8,293.9 525.0,297.6 526.1,301.2 527.3,304.6 528.5,307.8 529.7,310.9 530.8,313.8 532.0,316.6 533.2,319.1 534.4,321.4 535.5,323.5 536.7,325.4 537.9,327.1 539.1,328.5 540.2,329.7 541.4,330.6 542.6,331.4 543.7,331.8 544.9,332.1 546.1,332.1 547.3,331.8 548.4,331.4 549.6,330.6 550.8,329.7 552.0,328.5 553.1,327.1 554.3,325.5 555.5,323.7 556.7,321.7 557.8,319.5 559.0,317.1 560.2,314.6 561.3,311.8 562.5,309.0 563.7,305.9 564.9,302.8 566.0,299.5 567.2,296.1 568.4,292.7 569.6,289.1 570.7,285.5 571.9,281.8 573.1,278.1 574.3,274.4 575.4,270.6 576.6,266.9 577.8,263.1 578.9,259.4 580.1,255.8 581.3,252.1 582.5,248.6 583.6,245.1 584.8,241.7 586.0,238.4 587.2,235.3 588.3,232.2 589.5,229.3 590.7,226.5 591.9,223.9 593.0,221.4 594.2,219.2 595.4,217.0 596.5,215.1 597.7,213.4 598.9,211.8 600.1,210.5 601.2,209.3 602.4,208.4 603.6,207.7 604.8,207.2 605.9,206.9 607.1,206.8 608.3,206.9 609.5,207.2 610.6,207.8 611.8,208.5 613.0,209.5 614.1,210.6 615.3,211.9 616.5,213.4 617.7,215.1 618.8,217.0 620.0,219.1 621.2,221.2 622.4,223.6 623.5,226.1 624.7,228.7 625.9,231.4 627.1,234.3 628.2,237.2 629.4,240.2 630.6,243.4 631.7,246.5 632.9,249.8 634.1,253.0 635.3,256.4 636.4,259.7 637.6,263.0 638.8,266.3 640.0,269.7 641.1,272.9 642.3,276.2 643.5,279.4 644.7,282.5 645.8,285.6 647.0,288.6 648.2,291.4 649.3,294.2 650.5,296.9 651.7,299.5 652.9,301.9 654.0,304.2 655.2,306.3 656.4,308.3 657.6,310.1 658.7,311.8 659.9,313.3 661.1,314.6 662.3,315.7 663.4,316.7 664.6,317.5 665.8,318.1 666.9,318.5 668.1,318.7 669.3,318.8 670.5,318.6 671.6,318.3 672.8,317.8 674.0,317.1 675.2,316.2 676.3,315.2 677.5,314.0 678.7,312.6 679.9,311.1 681.0,309.4 682.2,307.6 683.4,305.7 684.5,303.6 685.7,301.4 686.9,299.1 688.1,296.7 689.2,294.2 690.4,291.6 691.6,288.9 692.8,286.2 693.9,283.4 695.1,280.6 696.3,277.7 697.5,274.9 698.6,272.0 699.8,269.1" fill="none" stroke="#EA2024" stroke-width="3.3" stroke-linejoin="round" clip-path="url(#c)"/>
<path d="M116.3 61.6v9.3M112.3 61.6h8.0M112.3 70.9h8.0M121.3 79.5v8.7M117.3 79.5h8.0M117.3 88.2h8.0M126.2 101.6v9.5M122.2 101.6h8.0M122.2 111.1h8.0M131.2 133.9v8.8M127.2 133.9h8.0M127.2 142.7h8.0M136.1 177.4v8.8M132.1 177.4h8.0M132.1 186.2h8.0M141.1 222.9v8.5M137.1 222.9h8.0M137.1 231.5h8.0M146.1 273.1v10.8M142.1 273.1h8.0M142.1 284.0h8.0M151.0 324.7v9.7M147.0 324.7h8.0M147.0 334.4h8.0M156.0 364.0v10.2M152.0 364.0h8.0M152.0 374.1h8.0M160.9 406.6v10.1M156.9 406.6h8.0M156.9 416.7h8.0M165.9 436.4v10.4M161.9 436.4h8.0M161.9 446.8h8.0M170.9 440.5v10.4M166.9 440.5h8.0M166.9 451.0h8.0M175.8 447.5v11.8M171.8 447.5h8.0M171.8 459.2h8.0M180.8 439.1v10.0M176.8 439.1h8.0M176.8 449.1h8.0M185.7 430.8v9.8M181.7 430.8h8.0M181.7 440.7h8.0M190.7 396.3v10.3M186.7 396.3h8.0M186.7 406.7h8.0M195.7 362.2v10.3M191.7 362.2h8.0M191.7 372.4h8.0M200.6 322.8v11.8M196.6 322.8h8.0M196.6 334.6h8.0M205.6 287.9v12.0M201.6 287.9h8.0M201.6 299.9h8.0M210.5 233.7v10.9M206.5 233.7h8.0M206.5 244.6h8.0M215.5 186.9v10.8M211.5 186.9h8.0M211.5 197.7h8.0M220.5 154.3v11.7M216.5 154.3h8.0M216.5 166.0h8.0M225.4 132.4v13.1M221.4 132.4h8.0M221.4 145.5h8.0M230.4 111.7v10.2M226.4 111.7h8.0M226.4 121.9h8.0M235.3 97.2v12.8M231.3 97.2h8.0M231.3 110.0h8.0M240.3 120.9v11.8M236.3 120.9h8.0M236.3 132.7h8.0M245.3 116.8v13.6M241.3 116.8h8.0M241.3 130.3h8.0M250.2 134.7v12.1M246.2 134.7h8.0M246.2 146.8h8.0M255.2 162.0v12.9M251.2 162.0h8.0M251.2 174.9h8.0M260.1 191.1v12.1M256.1 191.1h8.0M256.1 203.1h8.0M265.1 231.7v12.7M261.1 231.7h8.0M261.1 244.4h8.0M270.1 274.4v14.8M266.1 274.4h8.0M266.1 289.2h8.0M275.0 312.0v14.5M271.0 312.0h8.0M271.0 326.5h8.0M280.0 342.7v13.7M276.0 342.7h8.0M276.0 356.4h8.0M284.9 379.4v13.5M280.9 379.4h8.0M280.9 392.9h8.0M289.9 396.5v12.8M285.9 396.5h8.0M285.9 409.3h8.0M294.9 400.6v14.3M290.9 400.6h8.0M290.9 414.8h8.0M299.8 394.7v14.8M295.8 394.7h8.0M295.8 409.4h8.0M304.8 403.4v14.9M300.8 403.4h8.0M300.8 418.3h8.0M309.7 387.1v15.1M305.7 387.1h8.0M305.7 402.2h8.0M314.7 362.9v14.4M310.7 362.9h8.0M310.7 377.3h8.0M319.7 324.6v15.6M315.7 324.6h8.0M315.7 340.2h8.0M324.6 302.6v15.8M320.6 302.6h8.0M320.6 318.4h8.0M329.6 254.5v17.3M325.6 254.5h8.0M325.6 271.8h8.0M334.5 241.5v18.1M330.5 241.5h8.0M330.5 259.6h8.0M339.5 203.7v16.3M335.5 203.7h8.0M335.5 220.0h8.0M344.5 176.9v15.9M340.5 176.9h8.0M340.5 192.8h8.0M349.4 147.3v16.9M345.4 147.3h8.0M345.4 164.1h8.0M354.4 131.7v16.5M350.4 131.7h8.0M350.4 148.3h8.0M359.3 147.2v16.6M355.3 147.2h8.0M355.3 163.8h8.0M364.3 144.8v17.6M360.3 144.8h8.0M360.3 162.4h8.0M369.3 144.9v16.8M365.3 144.9h8.0M365.3 161.6h8.0M374.2 170.5v18.8M370.2 170.5h8.0M370.2 189.2h8.0M379.2 201.9v18.2M375.2 201.9h8.0M375.2 220.2h8.0M384.1 205.7v18.9M380.1 205.7h8.0M380.1 224.6h8.0M389.1 241.3v18.7M385.1 241.3h8.0M385.1 259.9h8.0M394.1 272.4v18.3M390.1 272.4h8.0M390.1 290.7h8.0M399.0 310.6v18.3M395.0 310.6h8.0M395.0 328.9h8.0M404.0 321.9v19.4M400.0 321.9h8.0M400.0 341.3h8.0M408.9 355.6v19.3M404.9 355.6h8.0M404.9 374.8h8.0M413.9 356.7v20.5M409.9 356.7h8.0M409.9 377.2h8.0M418.9 385.6v20.5M414.9 385.6h8.0M414.9 406.1h8.0M423.8 386.2v19.0M419.8 386.2h8.0M419.8 405.2h8.0M428.8 368.7v21.1M424.8 368.7h8.0M424.8 389.8h8.0M433.7 365.6v19.6M429.7 365.6h8.0M429.7 385.1h8.0M438.7 332.4v20.8M434.7 332.4h8.0M434.7 353.2h8.0M443.7 313.1v21.5M439.7 313.1h8.0M439.7 334.6h8.0M448.6 299.8v19.4M444.6 299.8h8.0M444.6 319.2h8.0M453.6 261.0v22.6M449.6 261.0h8.0M449.6 283.6h8.0M458.5 238.8v23.0M454.5 238.8h8.0M454.5 261.8h8.0M463.5 199.7v22.9M459.5 199.7h8.0M459.5 222.6h8.0M468.5 196.4v22.8M464.5 196.4h8.0M464.5 219.2h8.0M473.4 178.0v23.2M469.4 178.0h8.0M469.4 201.2h8.0M478.4 149.3v22.6M474.4 149.3h8.0M474.4 172.0h8.0M483.3 131.8v24.0M479.3 131.8h8.0M479.3 155.8h8.0M488.3 137.5v23.9M484.3 137.5h8.0M484.3 161.4h8.0M493.3 169.0v25.2M489.3 169.0h8.0M489.3 194.1h8.0M498.2 182.5v23.6M494.2 182.5h8.0M494.2 206.1h8.0M503.2 182.9v26.1M499.2 182.9h8.0M499.2 209.0h8.0M508.1 226.8v26.3M504.1 226.8h8.0M504.1 253.1h8.0M513.1 262.2v26.2M509.1 262.2h8.0M509.1 288.4h8.0M518.1 272.3v26.1M514.1 272.3h8.0M514.1 298.4h8.0M523.0 289.7v28.1M519.0 289.7h8.0M519.0 317.7h8.0M528.0 328.3v24.8M524.0 328.3h8.0M524.0 353.1h8.0M532.9 356.1v28.7M528.9 356.1h8.0M528.9 384.8h8.0M537.9 364.7v28.7M533.9 364.7h8.0M533.9 393.4h8.0M542.9 340.2v29.2M538.9 340.2h8.0M538.9 369.3h8.0M547.8 361.1v29.7M543.8 361.1h8.0M543.8 390.8h8.0M552.8 347.3v28.3M548.8 347.3h8.0M548.8 375.6h8.0M557.7 331.2v29.4M553.7 331.2h8.0M553.7 360.6h8.0M562.7 308.6v31.4M558.7 308.6h8.0M558.7 340.0h8.0M567.7 305.2v31.5M563.7 305.2h8.0M563.7 336.7h8.0M572.6 271.5v31.5M568.6 271.5h8.0M568.6 303.0h8.0M577.6 272.1v28.6M573.6 272.1h8.0M573.6 300.7h8.0M582.5 242.2v33.0M578.5 242.2h8.0M578.5 275.2h8.0M587.5 234.2v34.6M583.5 234.2h8.0M583.5 268.8h8.0M592.5 180.7v34.8M588.5 180.7h8.0M588.5 215.5h8.0M597.4 189.4v33.7M593.4 189.4h8.0M593.4 223.1h8.0M602.4 194.6v30.6M598.4 194.6h8.0M598.4 225.2h8.0M607.3 184.8v36.1M603.3 184.8h8.0M603.3 220.9h8.0M612.3 183.1v34.3M608.3 183.1h8.0M608.3 217.4h8.0M617.3 175.8v29.8M613.3 175.8h8.0M613.3 205.5h8.0M622.2 220.8v36.4M618.2 220.8h8.0M618.2 257.2h8.0M627.2 223.0v32.8M623.2 223.0h8.0M623.2 255.9h8.0M632.1 226.8v33.7M628.1 226.8h8.0M628.1 260.5h8.0M637.1 190.6v35.6M633.1 190.6h8.0M633.1 226.2h8.0M642.1 230.3v40.4M638.1 230.3h8.0M638.1 270.7h8.0M647.0 268.3v37.2M643.0 268.3h8.0M643.0 305.6h8.0M652.0 264.1v39.2M648.0 264.1h8.0M648.0 303.4h8.0M656.9 241.3v43.2M652.9 241.3h8.0M652.9 284.5h8.0M661.9 296.3v43.4M657.9 296.3h8.0M657.9 339.7h8.0M666.9 302.0v39.9M662.9 302.0h8.0M662.9 341.9h8.0M671.8 271.3v40.1M667.8 271.3h8.0M667.8 311.4h8.0M676.8 283.7v38.1M672.8 283.7h8.0M672.8 321.8h8.0M681.7 271.0v40.1M677.7 271.0h8.0M677.7 311.1h8.0M686.7 282.8v43.5M682.7 282.8h8.0M682.7 326.2h8.0M691.7 215.4v44.0M687.7 215.4h8.0M687.7 259.4h8.0M696.6 205.0v43.8M692.6 205.0h8.0M692.6 248.8h8.0" stroke="#EDB120" stroke-width="1.35" fill="none" clip-path="url(#c)"/>
<path d="M110.2 61.5h12.2l-6.1 10.7zM115.2 79.1h12.2l-6.1 10.7zM120.1 101.6h12.2l-6.1 10.7zM125.1 133.6h12.2l-6.1 10.7zM130.0 177.1h12.2l-6.1 10.7zM135.0 222.5h12.2l-6.1 10.7zM140.0 273.8h12.2l-6.1 10.7zM144.9 324.9h12.2l-6.1 10.7zM149.9 364.4h12.2l-6.1 10.7zM154.8 407.0h12.2l-6.1 10.7zM159.8 436.9h12.2l-6.1 10.7zM164.8 441.1h12.2l-6.1 10.7zM169.7 448.6h12.2l-6.1 10.7zM174.7 439.4h12.2l-6.1 10.7zM179.6 431.1h12.2l-6.1 10.7zM184.6 396.8h12.2l-6.1 10.7zM189.6 362.6h12.2l-6.1 10.7zM194.5 324.0h12.2l-6.1 10.7zM199.5 289.2h12.2l-6.1 10.7zM204.4 234.4h12.2l-6.1 10.7zM209.4 187.6h12.2l-6.1 10.7zM214.4 155.4h12.2l-6.1 10.7zM219.3 134.2h12.2l-6.1 10.7zM224.3 112.1h12.2l-6.1 10.7zM229.2 98.9h12.2l-6.1 10.7zM234.2 122.1h12.2l-6.1 10.7zM239.2 118.9h12.2l-6.1 10.7zM244.1 136.0h12.2l-6.1 10.7zM249.1 163.8h12.2l-6.1 10.7zM254.0 192.4h12.2l-6.1 10.7zM259.0 233.4h12.2l-6.1 10.7zM264.0 277.1h12.2l-6.1 10.7zM268.9 314.5h12.2l-6.1 10.7zM273.9 344.8h12.2l-6.1 10.7zM278.8 381.5h12.2l-6.1 10.7zM283.8 398.2h12.2l-6.1 10.7zM288.8 403.0h12.2l-6.1 10.7zM293.7 397.3h12.2l-6.1 10.7zM298.7 406.2h12.2l-6.1 10.7zM303.6 390.0h12.2l-6.1 10.7zM308.6 365.4h12.2l-6.1 10.7zM313.6 327.7h12.2l-6.1 10.7zM318.5 305.8h12.2l-6.1 10.7zM323.5 258.4h12.2l-6.1 10.7zM328.4 245.9h12.2l-6.1 10.7zM333.4 207.1h12.2l-6.1 10.7zM338.4 180.2h12.2l-6.1 10.7zM343.3 151.0h12.2l-6.1 10.7zM348.3 135.3h12.2l-6.1 10.7zM353.2 150.8h12.2l-6.1 10.7zM358.2 148.9h12.2l-6.1 10.7zM363.2 148.5h12.2l-6.1 10.7zM368.1 175.1h12.2l-6.1 10.7zM373.1 206.3h12.2l-6.1 10.7zM378.0 210.4h12.2l-6.1 10.7zM383.0 245.9h12.2l-6.1 10.7zM388.0 276.8h12.2l-6.1 10.7zM392.9 315.0h12.2l-6.1 10.7zM397.9 326.9h12.2l-6.1 10.7zM402.8 360.5h12.2l-6.1 10.7zM407.8 362.2h12.2l-6.1 10.7zM412.8 391.1h12.2l-6.1 10.7zM417.7 391.0h12.2l-6.1 10.7zM422.7 374.5h12.2l-6.1 10.7zM427.6 370.6h12.2l-6.1 10.7zM432.6 338.1h12.2l-6.1 10.7zM437.6 319.1h12.2l-6.1 10.7zM442.5 304.8h12.2l-6.1 10.7zM447.5 267.6h12.2l-6.1 10.7zM452.4 245.6h12.2l-6.1 10.7zM457.4 206.4h12.2l-6.1 10.7zM462.4 203.1h12.2l-6.1 10.7zM467.3 184.9h12.2l-6.1 10.7zM472.3 156.0h12.2l-6.1 10.7zM477.2 139.1h12.2l-6.1 10.7zM482.2 144.8h12.2l-6.1 10.7zM487.2 176.8h12.2l-6.1 10.7zM492.1 189.6h12.2l-6.1 10.7zM497.1 191.3h12.2l-6.1 10.7zM502.0 235.3h12.2l-6.1 10.7zM507.0 270.6h12.2l-6.1 10.7zM512.0 280.7h12.2l-6.1 10.7zM516.9 299.0h12.2l-6.1 10.7zM521.9 336.0h12.2l-6.1 10.7zM526.8 365.8h12.2l-6.1 10.7zM531.8 374.3h12.2l-6.1 10.7zM536.8 350.0h12.2l-6.1 10.7zM541.7 371.3h12.2l-6.1 10.7zM546.7 356.8h12.2l-6.1 10.7zM551.6 341.2h12.2l-6.1 10.7zM556.6 319.6h12.2l-6.1 10.7zM561.6 316.2h12.2l-6.1 10.7zM566.5 282.5h12.2l-6.1 10.7zM571.5 281.7h12.2l-6.1 10.7zM576.4 254.0h12.2l-6.1 10.7zM581.4 246.8h12.2l-6.1 10.7zM586.4 193.4h12.2l-6.1 10.7zM591.3 201.6h12.2l-6.1 10.7zM596.3 205.2h12.2l-6.1 10.7zM601.2 198.1h12.2l-6.1 10.7zM606.2 195.6h12.2l-6.1 10.7zM611.2 185.9h12.2l-6.1 10.7zM616.1 234.3h12.2l-6.1 10.7zM621.1 234.7h12.2l-6.1 10.7zM626.0 239.0h12.2l-6.1 10.7zM631.0 203.7h12.2l-6.1 10.7zM636.0 245.8h12.2l-6.1 10.7zM640.9 282.2h12.2l-6.1 10.7zM645.9 279.0h12.2l-6.1 10.7zM650.8 258.2h12.2l-6.1 10.7zM655.8 313.3h12.2l-6.1 10.7zM660.8 317.2h12.2l-6.1 10.7zM665.7 286.6h12.2l-6.1 10.7zM670.7 298.0h12.2l-6.1 10.7zM675.6 286.4h12.2l-6.1 10.7zM680.6 299.8h12.2l-6.1 10.7zM685.6 232.7h12.2l-6.1 10.7zM690.5 222.2h12.2l-6.1 10.7z" fill="#EDB120"/>
<polyline points="114.3,64.4 115.5,65.4 116.6,67.1 117.8,69.5 119.0,72.6 120.2,76.3 121.3,80.8 122.5,85.9 123.7,91.6 124.9,98.0 126.0,104.9 127.2,112.4 128.4,120.4 129.6,128.9 130.7,137.9 131.9,147.3 133.1,157.1 134.2,167.2 135.4,177.7 136.6,188.5 137.8,199.5 138.9,210.7 140.1,222.0 141.3,233.5 142.5,245.1 143.6,256.7 144.8,268.3 146.0,279.8 147.2,291.3 148.3,302.7 149.5,313.8 150.7,324.8 151.8,335.5 153.0,346.0 154.2,356.1 155.4,365.9 156.5,375.3 157.7,384.3 158.9,392.8 160.1,400.8 161.2,408.4 162.4,415.4 163.6,421.9 164.8,427.8 165.9,433.2 167.1,437.9 168.3,442.0 169.4,445.5 170.6,448.3 171.8,450.5 173.0,452.0 174.1,452.9 175.3,453.1 176.5,452.7 177.7,451.6 178.8,449.9 180.0,447.6 181.2,444.6 182.4,441.0 183.5,436.9 184.7,432.1 185.9,426.8 187.0,421.0 188.2,414.6 189.4,407.8 190.6,400.5 191.7,392.8 192.9,384.7 194.1,376.2 195.3,367.4 196.4,358.2 197.6,348.8 198.8,339.2 200.0,329.3 201.1,319.3 202.3,309.1 203.5,298.9 204.6,288.6 205.8,278.3 207.0,268.0 208.2,257.8 209.3,247.6 210.5,237.6 211.7,227.7 212.9,218.0 214.0,208.6 215.2,199.4 216.4,190.6 217.6,182.0 218.7,173.8 219.9,166.0 221.1,158.6 222.2,151.6 223.4,145.1 224.6,139.0 225.8,133.4 226.9,128.4 228.1,123.9 229.3,119.9 230.5,116.5 231.6,113.7 232.8,111.4 234.0,109.7 235.2,108.6 236.3,108.1 237.5,108.1 238.7,108.7 239.8,109.9 241.0,111.7 242.2,114.0 243.4,116.9 244.5,120.3 245.7,124.3 246.9,128.7 248.1,133.7 249.2,139.1 250.4,144.9 251.6,151.2 252.8,157.9 253.9,164.9 255.1,172.3 256.3,180.0 257.4,188.0 258.6,196.3 259.8,204.8 261.0,213.5 262.1,222.3 263.3,231.3 264.5,240.4 265.7,249.6 266.8,258.8 268.0,268.0 269.2,277.2 270.4,286.3 271.5,295.4 272.7,304.3 273.9,313.0 275.0,321.6 276.2,329.9 277.4,338.0 278.6,345.9 279.7,353.4 280.9,360.6 282.1,367.4 283.3,373.9 284.4,380.0 285.6,385.7 286.8,390.9 288.0,395.7 289.1,400.0 290.3,403.9 291.5,407.3 292.6,410.1 293.8,412.5 295.0,414.4 296.2,415.7 297.3,416.5 298.5,416.8 299.7,416.6 300.9,415.8 302.0,414.6 303.2,412.8 304.4,410.6 305.6,407.8 306.7,404.6 307.9,401.0 309.1,396.9 310.2,392.3 311.4,387.4 312.6,382.0 313.8,376.3 314.9,370.3 316.1,363.9 317.3,357.2 318.5,350.3 319.6,343.1 320.8,335.6 322.0,328.0 323.2,320.2 324.3,312.3 325.5,304.3 326.7,296.2 327.8,288.0 329.0,279.8 330.2,271.6 331.4,263.5 332.5,255.4 333.7,247.4 334.9,239.6 336.1,231.9 337.2,224.3 338.4,217.0 339.6,209.9 340.8,203.0 341.9,196.5 343.1,190.2 344.3,184.2 345.4,178.6 346.6,173.4 347.8,168.5 349.0,164.0 350.1,159.9 351.3,156.2 352.5,153.0 353.7,150.2 354.8,147.8 356.0,145.9 357.2,144.4 358.4,143.5 359.5,142.9 360.7,142.9 361.9,143.3 363.0,144.1 364.2,145.5 365.4,147.2 366.6,149.4 367.7,152.0 368.9,155.1 370.1,158.5 371.3,162.3 372.4,166.6 373.6,171.1 374.8,176.0 376.0,181.3 377.1,186.8 378.3,192.6 379.5,198.7 380.6,205.0 381.8,211.5 383.0,218.2 384.2,225.1 385.3,232.1 386.5,239.2 387.7,246.4 388.9,253.7 390.0,261.0 391.2,268.3 392.4,275.6 393.6,282.9 394.7,290.1 395.9,297.2 397.1,304.1 398.2,311.0 399.4,317.6 400.6,324.1 401.8,330.4 402.9,336.4 404.1,342.2 405.3,347.7 406.5,352.9 407.6,357.8 408.8,362.4 410.0,366.6 411.2,370.5 412.3,374.0 413.5,377.2 414.7,379.9 415.9,382.3 417.0,384.2 418.2,385.8 419.4,386.9 420.5,387.7 421.7,388.0 422.9,387.9 424.1,387.4 425.2,386.5 426.4,385.2 427.6,383.5 428.8,381.4 429.9,379.0 431.1,376.1 432.3,372.9 433.5,369.4 434.6,365.6 435.8,361.4 437.0,356.9 438.1,352.2 439.3,347.2 440.5,341.9 441.7,336.4 442.8,330.8 444.0,324.9 445.2,318.9 446.4,312.7 447.5,306.5 448.7,300.1 449.9,293.7 451.1,287.2 452.2,280.7 453.4,274.2 454.6,267.7 455.7,261.3 456.9,255.0 458.1,248.7 459.3,242.6 460.4,236.5 461.6,230.7 462.8,225.0 464.0,219.5 465.1,214.3 466.3,209.2 467.5,204.4 468.7,199.9 469.8,195.7 471.0,191.7 472.2,188.1 473.3,184.8 474.5,181.8 475.7,179.1 476.9,176.8 478.0,174.9 479.2,173.3 480.4,172.1 481.6,171.2 482.7,170.7 483.9,170.6 485.1,170.8 486.3,171.4 487.4,172.4 488.6,173.7 489.8,175.4 490.9,177.4 492.1,179.7 493.3,182.4 494.5,185.4 495.6,188.7 496.8,192.2 498.0,196.1 499.2,200.2 500.3,204.5 501.5,209.1 502.7,213.9 503.9,218.8 505.0,224.0 506.2,229.3 507.4,234.7 508.5,240.2 509.7,245.9 510.9,251.6 512.1,257.3 513.2,263.1 514.4,268.9 515.6,274.7 516.8,280.5 517.9,286.2 519.1,291.9 520.3,297.4 521.5,302.9 522.6,308.2 523.8,313.4 525.0,318.4 526.1,323.2 527.3,327.9 528.5,332.3 529.7,336.5 530.8,340.4 532.0,344.1 533.2,347.5 534.4,350.7 535.5,353.5 536.7,356.1 537.9,358.4 539.1,360.3 540.2,361.9 541.4,363.2 542.6,364.2 543.7,364.9 544.9,365.2 546.1,365.2 547.3,364.9 548.4,364.2 549.6,363.3 550.8,362.0 552.0,360.4 553.1,358.5 554.3,356.3 555.5,353.9 556.7,351.1 557.8,348.1 559.0,344.9 560.2,341.4 561.3,337.6 562.5,333.7 563.7,329.6 564.9,325.3 566.0,320.8 567.2,316.2 568.4,311.4 569.6,306.6 570.7,301.6 571.9,296.6 573.1,291.5 574.3,286.4 575.4,281.2 576.6,276.0 577.8,270.9 578.9,265.8 580.1,260.7 581.3,255.7 582.5,250.8 583.6,246.0 584.8,241.4 586.0,236.8 587.2,232.4 588.3,228.2 589.5,224.2 590.7,220.3 591.9,216.7 593.0,213.3 594.2,210.1 595.4,207.2 596.5,204.5 597.7,202.1 598.9,199.9 600.1,198.0 601.2,196.4 602.4,195.1 603.6,194.0 604.8,193.3 605.9,192.8 607.1,192.7 608.3,192.8 609.5,193.2 610.6,193.9 611.8,194.9 613.0,196.2 614.1,197.7 615.3,199.5 616.5,201.6 617.7,203.9 618.8,206.4 620.0,209.2 621.2,212.2 622.4,215.4 623.5,218.8 624.7,222.4 625.9,226.2 627.1,230.1 628.2,234.2 629.4,238.3 630.6,242.6 631.7,247.0 632.9,251.5 634.1,256.0 635.3,260.6 636.4,265.2 637.6,269.8 638.8,274.4 640.0,279.0 641.1,283.5 642.3,288.0 643.5,292.4 644.7,296.8 645.8,301.0 647.0,305.2 648.2,309.2 649.3,313.0 650.5,316.8 651.7,320.3 652.9,323.7 654.0,326.8 655.2,329.8 656.4,332.6 657.6,335.1 658.7,337.5 659.9,339.5 661.1,341.4 662.3,343.0 663.4,344.3 664.6,345.4 665.8,346.3 666.9,346.9 668.1,347.2 669.3,347.2 670.5,347.0 671.6,346.6 672.8,345.9 674.0,344.9 675.2,343.7 676.3,342.2 677.5,340.6 678.7,338.6 679.9,336.5 681.0,334.2 682.2,331.6 683.4,328.9 684.5,326.0 685.7,322.9 686.9,319.7 688.1,316.3 689.2,312.7 690.4,309.1 691.6,305.4 692.8,301.5 693.9,297.6 695.1,293.6 696.3,289.6 697.5,285.5 698.6,281.4 699.8,277.3" fill="none" stroke="#D6A42C" stroke-width="3.3" stroke-linejoin="round" clip-path="url(#c)"/>
<path d="M116.3 51.6v8.0M112.3 51.6h8.0M112.3 59.6h8.0M121.3 65.2v8.2M117.3 65.2h8.0M117.3 73.4h8.0M126.2 81.6v7.0M122.2 81.6h8.0M122.2 88.6h8.0M131.2 133.9v8.4M127.2 133.9h8.0M127.2 142.2h8.0M136.1 180.1v8.1M132.1 180.1h8.0M132.1 188.1h8.0M141.1 235.4v8.5M137.1 235.4h8.0M137.1 243.9h8.0M146.1 284.1v8.7M142.1 284.1h8.0M142.1 292.8h8.0M151.0 346.7v8.3M147.0 346.7h8.0M147.0 355.1h8.0M156.0 393.4v7.8M152.0 393.4h8.0M152.0 401.2h8.0M160.9 432.4v8.9M156.9 432.4h8.0M156.9 441.3h8.0M165.9 467.4v8.5M161.9 467.4h8.0M161.9 475.9h8.0M170.9 485.9v8.8M166.9 485.9h8.0M166.9 494.7h8.0M175.8 499.2v8.8M171.8 499.2h8.0M171.8 508.0h8.0M180.8 488.2v9.0M176.8 488.2h8.0M176.8 497.2h8.0M185.7 464.1v8.1M181.7 464.1h8.0M181.7 472.2h8.0M190.7 427.3v10.2M186.7 427.3h8.0M186.7 437.4h8.0M195.7 383.5v9.8M191.7 383.5h8.0M191.7 393.3h8.0M200.6 337.4v10.4M196.6 337.4h8.0M196.6 347.8h8.0M205.6 295.2v11.0M201.6 295.2h8.0M201.6 306.3h8.0M210.5 237.5v10.0M206.5 237.5h8.0M206.5 247.6h8.0M215.5 184.6v9.0M211.5 184.6h8.0M211.5 193.6h8.0M220.5 143.7v9.7M216.5 143.7h8.0M216.5 153.5h8.0M225.4 114.1v9.7M221.4 114.1h8.0M221.4 123.8h8.0M230.4 95.8v10.2M226.4 95.8h8.0M226.4 106.1h8.0M235.3 77.3v10.8M231.3 77.3h8.0M231.3 88.1h8.0M240.3 69.5v9.5M236.3 69.5h8.0M236.3 79.1h8.0M245.3 103.1v11.2M241.3 103.1h8.0M241.3 114.4h8.0M250.2 126.2v10.1M246.2 126.2h8.0M246.2 136.3h8.0M255.2 147.4v11.5M251.2 147.4h8.0M251.2 158.9h8.0M260.1 195.7v11.4M256.1 195.7h8.0M256.1 207.1h8.0M265.1 235.9v11.4M261.1 235.9h8.0M261.1 247.3h8.0M270.1 291.9v11.7M266.1 291.9h8.0M266.1 303.6h8.0M275.0 329.0v11.5M271.0 329.0h8.0M271.0 340.5h8.0M280.0 378.6v11.6M276.0 378.6h8.0M276.0 390.2h8.0M284.9 410.0v11.0M280.9 410.0h8.0M280.9 421.0h8.0M289.9 417.8v12.4M285.9 417.8h8.0M285.9 430.2h8.0M294.9 455.8v14.0M290.9 455.8h8.0M290.9 469.7h8.0M299.8 456.4v14.3M295.8 456.4h8.0M295.8 470.7h8.0M304.8 442.6v14.0M300.8 442.6h8.0M300.8 456.5h8.0M309.7 421.3v13.7M305.7 421.3h8.0M305.7 434.9h8.0M314.7 388.4v12.7M310.7 388.4h8.0M310.7 401.2h8.0M319.7 363.6v14.6M315.7 363.6h8.0M315.7 378.2h8.0M324.6 332.1v13.6M320.6 332.1h8.0M320.6 345.7h8.0M329.6 279.4v13.8M325.6 279.4h8.0M325.6 293.2h8.0M334.5 235.0v13.8M330.5 235.0h8.0M330.5 248.8h8.0M339.5 194.7v14.3M335.5 194.7h8.0M335.5 209.0h8.0M344.5 152.3v14.0M340.5 152.3h8.0M340.5 166.3h8.0M349.4 132.4v14.5M345.4 132.4h8.0M345.4 147.0h8.0M354.4 111.9v13.8M350.4 111.9h8.0M350.4 125.8h8.0M359.3 117.7v14.7M355.3 117.7h8.0M355.3 132.4h8.0M364.3 103.7v17.3M360.3 103.7h8.0M360.3 120.9h8.0M369.3 108.9v15.3M365.3 108.9h8.0M365.3 124.2h8.0M374.2 140.9v15.4M370.2 140.9h8.0M370.2 156.3h8.0M379.2 173.8v16.3M375.2 173.8h8.0M375.2 190.1h8.0M384.1 209.5v16.7M380.1 209.5h8.0M380.1 226.2h8.0M389.1 236.4v15.2M385.1 236.4h8.0M385.1 251.5h8.0M394.1 296.2v16.3M390.1 296.2h8.0M390.1 312.4h8.0M399.0 326.5v17.6M395.0 326.5h8.0M395.0 344.1h8.0M404.0 355.4v17.2M400.0 355.4h8.0M400.0 372.6h8.0M408.9 380.5v17.3M404.9 380.5h8.0M404.9 397.8h8.0M413.9 410.1v19.0M409.9 410.1h8.0M409.9 429.1h8.0M418.9 428.4v16.9M414.9 428.4h8.0M414.9 445.3h8.0M423.8 421.6v18.0M419.8 421.6h8.0M419.8 439.6h8.0M428.8 410.5v17.6M424.8 410.5h8.0M424.8 428.0h8.0M433.7 395.1v20.0M429.7 395.1h8.0M429.7 415.1h8.0M438.7 380.9v16.4M434.7 380.9h8.0M434.7 397.3h8.0M443.7 340.7v18.1M439.7 340.7h8.0M439.7 358.9h8.0M448.6 298.1v18.5M444.6 298.1h8.0M444.6 316.7h8.0M453.6 279.3v20.2M449.6 279.3h8.0M449.6 299.5h8.0M458.5 236.5v20.4M454.5 236.5h8.0M454.5 256.9h8.0M463.5 195.6v21.6M459.5 195.6h8.0M459.5 217.1h8.0M468.5 190.8v18.3M464.5 190.8h8.0M464.5 209.1h8.0M473.4 160.6v21.4M469.4 160.6h8.0M469.4 182.0h8.0M478.4 164.4v20.4M474.4 164.4h8.0M474.4 184.8h8.0M483.3 137.3v20.2M479.3 137.3h8.0M479.3 157.5h8.0M488.3 126.2v22.0M484.3 126.2h8.0M484.3 148.2h8.0M493.3 143.9v20.4M489.3 143.9h8.0M489.3 164.3h8.0M498.2 182.1v19.2M494.2 182.1h8.0M494.2 201.2h8.0M503.2 189.3v21.7M499.2 189.3h8.0M499.2 211.0h8.0M508.1 220.8v20.5M504.1 220.8h8.0M504.1 241.3h8.0M513.1 252.6v21.9M509.1 252.6h8.0M509.1 274.5h8.0M518.1 267.4v23.6M514.1 267.4h8.0M514.1 291.1h8.0M523.0 327.7v23.9M519.0 327.7h8.0M519.0 351.6h8.0M528.0 317.0v26.0M524.0 317.0h8.0M524.0 343.0h8.0M532.9 346.9v23.8M528.9 346.9h8.0M528.9 370.7h8.0M537.9 339.5v22.1M533.9 339.5h8.0M533.9 361.7h8.0M542.9 359.9v23.6M538.9 359.9h8.0M538.9 383.5h8.0M547.8 372.4v23.7M543.8 372.4h8.0M543.8 396.1h8.0M552.8 361.6v23.5M548.8 361.6h8.0M548.8 385.2h8.0M557.7 349.1v26.4M553.7 349.1h8.0M553.7 375.5h8.0M562.7 348.0v25.1M558.7 348.0h8.0M558.7 373.1h8.0M567.7 318.0v23.3M563.7 318.0h8.0M563.7 341.3h8.0M572.6 299.8v27.9M568.6 299.8h8.0M568.6 327.7h8.0M577.6 291.6v27.0M573.6 291.6h8.0M573.6 318.6h8.0M582.5 220.1v28.1M578.5 220.1h8.0M578.5 248.2h8.0M587.5 195.9v28.1M583.5 195.9h8.0M583.5 224.0h8.0M592.5 180.0v29.4M588.5 180.0h8.0M588.5 209.4h8.0M597.4 164.1v28.7M593.4 164.1h8.0M593.4 192.9h8.0M602.4 136.9v31.2M598.4 136.9h8.0M598.4 168.1h8.0M607.3 156.8v30.2M603.3 156.8h8.0M603.3 187.0h8.0M612.3 162.9v30.6M608.3 162.9h8.0M608.3 193.4h8.0M617.3 164.0v31.0M613.3 164.0h8.0M613.3 195.0h8.0M622.2 161.3v28.0M618.2 161.3h8.0M618.2 189.3h8.0M627.2 218.3v30.8M623.2 218.3h8.0M623.2 249.1h8.0M632.1 202.4v31.0M628.1 202.4h8.0M628.1 233.4h8.0M637.1 256.5v32.3M633.1 256.5h8.0M633.1 288.9h8.0M642.1 290.1v29.7M638.1 290.1h8.0M638.1 319.8h8.0M647.0 272.5v36.0M643.0 272.5h8.0M643.0 308.6h8.0M652.0 319.7v33.5M648.0 319.7h8.0M648.0 353.1h8.0M656.9 356.5v31.3M652.9 356.5h8.0M652.9 387.7h8.0M661.9 353.3v30.7M657.9 353.3h8.0M657.9 384.0h8.0M666.9 335.6v34.0M662.9 335.6h8.0M662.9 369.6h8.0M671.8 331.0v34.9M667.8 331.0h8.0M667.8 365.9h8.0M676.8 353.8v34.0M672.8 353.8h8.0M672.8 387.8h8.0M681.7 326.3v36.3M677.7 326.3h8.0M677.7 362.6h8.0M686.7 304.8v35.1M682.7 304.8h8.0M682.7 340.0h8.0M691.7 307.4v38.3M687.7 307.4h8.0M687.7 345.7h8.0M696.6 266.6v35.9M692.6 266.6h8.0M692.6 302.5h8.0" stroke="#7E2F8E" stroke-width="1.35" fill="none" clip-path="url(#c)"/>
<path d="M116.3 49.4l4.8 6.2l-4.8 6.2l-4.8 -6.2zM121.3 63.1l4.8 6.2l-4.8 6.2l-4.8 -6.2zM126.2 78.9l4.8 6.2l-4.8 6.2l-4.8 -6.2zM131.2 131.9l4.8 6.2l-4.8 6.2l-4.8 -6.2zM136.1 177.9l4.8 6.2l-4.8 6.2l-4.8 -6.2zM141.1 233.4l4.8 6.2l-4.8 6.2l-4.8 -6.2zM146.1 282.2l4.8 6.2l-4.8 6.2l-4.8 -6.2zM151.0 344.7l4.8 6.2l-4.8 6.2l-4.8 -6.2zM156.0 391.1l4.8 6.2l-4.8 6.2l-4.8 -6.2zM160.9 430.6l4.8 6.2l-4.8 6.2l-4.8 -6.2zM165.9 465.5l4.8 6.2l-4.8 6.2l-4.8 -6.2zM170.9 484.1l4.8 6.2l-4.8 6.2l-4.8 -6.2zM175.8 497.4l4.8 6.2l-4.8 6.2l-4.8 -6.2zM180.8 486.5l4.8 6.2l-4.8 6.2l-4.8 -6.2zM185.7 461.9l4.8 6.2l-4.8 6.2l-4.8 -6.2zM190.7 426.1l4.8 6.2l-4.8 6.2l-4.8 -6.2zM195.7 382.2l4.8 6.2l-4.8 6.2l-4.8 -6.2zM200.6 336.4l4.8 6.2l-4.8 6.2l-4.8 -6.2zM205.6 294.5l4.8 6.2l-4.8 6.2l-4.8 -6.2zM210.5 236.4l4.8 6.2l-4.8 6.2l-4.8 -6.2zM215.5 182.9l4.8 6.2l-4.8 6.2l-4.8 -6.2zM220.5 142.4l4.8 6.2l-4.8 6.2l-4.8 -6.2zM225.4 112.7l4.8 6.2l-4.8 6.2l-4.8 -6.2zM230.4 94.8l4.8 6.2l-4.8 6.2l-4.8 -6.2zM235.3 76.5l4.8 6.2l-4.8 6.2l-4.8 -6.2zM240.3 68.1l4.8 6.2l-4.8 6.2l-4.8 -6.2zM245.3 102.5l4.8 6.2l-4.8 6.2l-4.8 -6.2zM250.2 125.1l4.8 6.2l-4.8 6.2l-4.8 -6.2zM255.2 146.9l4.8 6.2l-4.8 6.2l-4.8 -6.2zM260.1 195.2l4.8 6.2l-4.8 6.2l-4.8 -6.2zM265.1 235.4l4.8 6.2l-4.8 6.2l-4.8 -6.2zM270.1 291.6l4.8 6.2l-4.8 6.2l-4.8 -6.2zM275.0 328.5l4.8 6.2l-4.8 6.2l-4.8 -6.2zM280.0 378.2l4.8 6.2l-4.8 6.2l-4.8 -6.2zM284.9 409.3l4.8 6.2l-4.8 6.2l-4.8 -6.2zM289.9 417.8l4.8 6.2l-4.8 6.2l-4.8 -6.2zM294.9 456.6l4.8 6.2l-4.8 6.2l-4.8 -6.2zM299.8 457.3l4.8 6.2l-4.8 6.2l-4.8 -6.2zM304.8 443.3l4.8 6.2l-4.8 6.2l-4.8 -6.2zM309.7 421.9l4.8 6.2l-4.8 6.2l-4.8 -6.2zM314.7 388.6l4.8 6.2l-4.8 6.2l-4.8 -6.2zM319.7 364.7l4.8 6.2l-4.8 6.2l-4.8 -6.2zM324.6 332.7l4.8 6.2l-4.8 6.2l-4.8 -6.2zM329.6 280.1l4.8 6.2l-4.8 6.2l-4.8 -6.2zM334.5 235.7l4.8 6.2l-4.8 6.2l-4.8 -6.2zM339.5 195.6l4.8 6.2l-4.8 6.2l-4.8 -6.2zM344.5 153.1l4.8 6.2l-4.8 6.2l-4.8 -6.2zM349.4 133.5l4.8 6.2l-4.8 6.2l-4.8 -6.2zM354.4 112.7l4.8 6.2l-4.8 6.2l-4.8 -6.2zM359.3 118.8l4.8 6.2l-4.8 6.2l-4.8 -6.2zM364.3 106.1l4.8 6.2l-4.8 6.2l-4.8 -6.2zM369.3 110.4l4.8 6.2l-4.8 6.2l-4.8 -6.2zM374.2 142.4l4.8 6.2l-4.8 6.2l-4.8 -6.2zM379.2 175.8l4.8 6.2l-4.8 6.2l-4.8 -6.2zM384.1 211.6l4.8 6.2l-4.8 6.2l-4.8 -6.2zM389.1 237.7l4.8 6.2l-4.8 6.2l-4.8 -6.2zM394.1 298.1l4.8 6.2l-4.8 6.2l-4.8 -6.2zM399.0 329.1l4.8 6.2l-4.8 6.2l-4.8 -6.2zM404.0 357.8l4.8 6.2l-4.8 6.2l-4.8 -6.2zM408.9 382.9l4.8 6.2l-4.8 6.2l-4.8 -6.2zM413.9 413.4l4.8 6.2l-4.8 6.2l-4.8 -6.2zM418.9 430.7l4.8 6.2l-4.8 6.2l-4.8 -6.2zM423.8 424.4l4.8 6.2l-4.8 6.2l-4.8 -6.2zM428.8 413.1l4.8 6.2l-4.8 6.2l-4.8 -6.2zM433.7 398.9l4.8 6.2l-4.8 6.2l-4.8 -6.2zM438.7 382.9l4.8 6.2l-4.8 6.2l-4.8 -6.2zM443.7 343.6l4.8 6.2l-4.8 6.2l-4.8 -6.2zM448.6 301.2l4.8 6.2l-4.8 6.2l-4.8 -6.2zM453.6 283.2l4.8 6.2l-4.8 6.2l-4.8 -6.2zM458.5 240.5l4.8 6.2l-4.8 6.2l-4.8 -6.2zM463.5 200.2l4.8 6.2l-4.8 6.2l-4.8 -6.2zM468.5 193.7l4.8 6.2l-4.8 6.2l-4.8 -6.2zM473.4 165.1l4.8 6.2l-4.8 6.2l-4.8 -6.2zM478.4 168.4l4.8 6.2l-4.8 6.2l-4.8 -6.2zM483.3 141.2l4.8 6.2l-4.8 6.2l-4.8 -6.2zM488.3 131.0l4.8 6.2l-4.8 6.2l-4.8 -6.2zM493.3 147.9l4.8 6.2l-4.8 6.2l-4.8 -6.2zM498.2 185.4l4.8 6.2l-4.8 6.2l-4.8 -6.2zM503.2 193.9l4.8 6.2l-4.8 6.2l-4.8 -6.2zM508.1 224.8l4.8 6.2l-4.8 6.2l-4.8 -6.2zM513.1 257.3l4.8 6.2l-4.8 6.2l-4.8 -6.2zM518.1 273.1l4.8 6.2l-4.8 6.2l-4.8 -6.2zM523.0 333.4l4.8 6.2l-4.8 6.2l-4.8 -6.2zM528.0 323.8l4.8 6.2l-4.8 6.2l-4.8 -6.2zM532.9 352.6l4.8 6.2l-4.8 6.2l-4.8 -6.2zM537.9 344.4l4.8 6.2l-4.8 6.2l-4.8 -6.2zM542.9 365.5l4.8 6.2l-4.8 6.2l-4.8 -6.2zM547.8 378.1l4.8 6.2l-4.8 6.2l-4.8 -6.2zM552.8 367.2l4.8 6.2l-4.8 6.2l-4.8 -6.2zM557.7 356.1l4.8 6.2l-4.8 6.2l-4.8 -6.2zM562.7 354.3l4.8 6.2l-4.8 6.2l-4.8 -6.2zM567.7 323.4l4.8 6.2l-4.8 6.2l-4.8 -6.2zM572.6 307.5l4.8 6.2l-4.8 6.2l-4.8 -6.2zM577.6 298.9l4.8 6.2l-4.8 6.2l-4.8 -6.2zM582.5 228.0l4.8 6.2l-4.8 6.2l-4.8 -6.2zM587.5 203.7l4.8 6.2l-4.8 6.2l-4.8 -6.2zM592.5 188.5l4.8 6.2l-4.8 6.2l-4.8 -6.2zM597.4 172.3l4.8 6.2l-4.8 6.2l-4.8 -6.2zM602.4 146.3l4.8 6.2l-4.8 6.2l-4.8 -6.2zM607.3 165.7l4.8 6.2l-4.8 6.2l-4.8 -6.2zM612.3 171.9l4.8 6.2l-4.8 6.2l-4.8 -6.2zM617.3 173.3l4.8 6.2l-4.8 6.2l-4.8 -6.2zM622.2 169.1l4.8 6.2l-4.8 6.2l-4.8 -6.2zM627.2 227.5l4.8 6.2l-4.8 6.2l-4.8 -6.2zM632.1 211.7l4.8 6.2l-4.8 6.2l-4.8 -6.2zM637.1 266.5l4.8 6.2l-4.8 6.2l-4.8 -6.2zM642.1 298.7l4.8 6.2l-4.8 6.2l-4.8 -6.2zM647.0 284.4l4.8 6.2l-4.8 6.2l-4.8 -6.2zM652.0 330.2l4.8 6.2l-4.8 6.2l-4.8 -6.2zM656.9 365.9l4.8 6.2l-4.8 6.2l-4.8 -6.2zM661.9 362.5l4.8 6.2l-4.8 6.2l-4.8 -6.2zM666.9 346.4l4.8 6.2l-4.8 6.2l-4.8 -6.2zM671.8 342.3l4.8 6.2l-4.8 6.2l-4.8 -6.2zM676.8 364.6l4.8 6.2l-4.8 6.2l-4.8 -6.2zM681.7 338.2l4.8 6.2l-4.8 6.2l-4.8 -6.2zM686.7 316.2l4.8 6.2l-4.8 6.2l-4.8 -6.2zM691.7 320.3l4.8 6.2l-4.8 6.2l-4.8 -6.2zM696.6 278.4l4.8 6.2l-4.8 6.2l-4.8 -6.2z" fill="#7E2F8E"/>
<polyline points="114.3,48.3 115.5,49.2 116.6,51.0 117.8,53.5 119.0,56.9 120.2,61.0 121.3,65.9 122.5,71.6 123.7,77.9 124.9,85.0 126.0,92.7 127.2,101.1 128.4,110.1 129.6,119.7 130.7,129.7 131.9,140.3 133.1,151.4 134.2,162.9 135.4,174.7 136.6,186.9 137.8,199.4 138.9,212.1 140.1,225.0 141.3,238.1 142.5,251.2 143.6,264.5 144.8,277.7 146.0,290.9 147.2,304.0 148.3,317.0 149.5,329.8 150.7,342.4 151.8,354.7 153.0,366.7 154.2,378.4 155.4,389.6 156.5,400.5 157.7,410.8 158.9,420.7 160.1,430.0 161.2,438.8 162.4,447.0 163.6,454.5 164.8,461.4 165.9,467.6 167.1,473.2 168.3,478.0 169.4,482.1 170.6,485.4 171.8,488.1 173.0,489.9 174.1,491.1 175.3,491.4 176.5,491.0 177.7,489.9 178.8,488.0 180.0,485.3 181.2,482.0 182.4,477.9 183.5,473.2 184.7,467.7 185.9,461.6 187.0,454.9 188.2,447.6 189.4,439.7 190.6,431.3 191.7,422.3 192.9,412.9 194.1,403.0 195.3,392.8 196.4,382.1 197.6,371.1 198.8,359.9 200.0,348.4 201.1,336.6 202.3,324.8 203.5,312.7 204.6,300.7 205.8,288.5 207.0,276.4 208.2,264.4 209.3,252.4 210.5,240.6 211.7,228.9 212.9,217.5 214.0,206.3 215.2,195.4 216.4,184.9 217.6,174.7 218.7,165.0 219.9,155.6 221.1,146.8 222.2,138.4 223.4,130.6 224.6,123.4 225.8,116.7 226.9,110.6 228.1,105.2 229.3,100.3 230.5,96.2 231.6,92.7 232.8,89.9 234.0,87.7 235.2,86.3 236.3,85.5 237.5,85.5 238.7,86.1 239.8,87.4 241.0,89.4 242.2,92.1 243.4,95.4 244.5,99.4 245.7,104.0 246.9,109.2 248.1,115.0 249.2,121.4 250.4,128.3 251.6,135.7 252.8,143.6 253.9,152.0 255.1,160.8 256.3,170.0 257.4,179.5 258.6,189.4 259.8,199.6 261.0,210.0 262.1,220.6 263.3,231.4 264.5,242.3 265.7,253.4 266.8,264.5 268.0,275.6 269.2,286.6 270.4,297.7 271.5,308.6 272.7,319.4 273.9,330.0 275.0,340.3 276.2,350.5 277.4,360.3 278.6,369.8 279.7,379.0 280.9,387.8 282.1,396.2 283.3,404.1 284.4,411.6 285.6,418.5 286.8,425.0 288.0,430.9 289.1,436.2 290.3,441.0 291.5,445.2 292.6,448.7 293.8,451.7 295.0,454.0 296.2,455.7 297.3,456.8 298.5,457.2 299.7,457.0 300.9,456.2 302.0,454.8 303.2,452.7 304.4,450.0 305.6,446.7 306.7,442.9 307.9,438.4 309.1,433.4 310.2,427.9 311.4,421.9 312.6,415.4 313.8,408.4 314.9,401.0 316.1,393.2 317.3,385.0 318.5,376.4 319.6,367.5 320.8,358.4 322.0,349.0 323.2,339.4 324.3,329.6 325.5,319.6 326.7,309.6 327.8,299.5 329.0,289.3 330.2,279.1 331.4,269.0 332.5,258.9 333.7,249.0 334.9,239.2 336.1,229.5 337.2,220.1 338.4,210.9 339.6,202.0 340.8,193.4 341.9,185.2 343.1,177.3 344.3,169.8 345.4,162.7 346.6,156.0 347.8,149.8 349.0,144.1 350.1,138.9 351.3,134.2 352.5,130.1 353.7,126.4 354.8,123.4 356.0,120.9 357.2,119.0 358.4,117.6 359.5,116.9 360.7,116.7 361.9,117.1 363.0,118.1 364.2,119.7 365.4,121.8 366.6,124.5 367.7,127.7 368.9,131.4 370.1,135.7 371.3,140.4 372.4,145.7 373.6,151.4 374.8,157.5 376.0,164.1 377.1,171.0 378.3,178.3 379.5,185.9 380.6,193.9 381.8,202.1 383.0,210.6 384.2,219.3 385.3,228.2 386.5,237.2 387.7,246.3 388.9,255.6 390.0,264.9 391.2,274.2 392.4,283.5 393.6,292.7 394.7,301.9 395.9,311.0 397.1,319.9 398.2,328.6 399.4,337.2 400.6,345.5 401.8,353.6 402.9,361.3 404.1,368.8 405.3,375.9 406.5,382.6 407.6,388.9 408.8,394.9 410.0,400.4 411.2,405.4 412.3,410.0 413.5,414.1 414.7,417.7 415.9,420.8 417.0,423.4 418.2,425.5 419.4,427.1 420.5,428.1 421.7,428.6 422.9,428.5 424.1,427.9 425.2,426.8 426.4,425.2 427.6,423.1 428.8,420.4 429.9,417.3 431.1,413.7 432.3,409.6 433.5,405.0 434.6,400.1 435.8,394.7 437.0,388.9 438.1,382.8 439.3,376.3 440.5,369.5 441.7,362.4 442.8,355.0 444.0,347.4 445.2,339.5 446.4,331.5 447.5,323.3 448.7,315.0 449.9,306.6 451.1,298.1 452.2,289.6 453.4,281.0 454.6,272.5 455.7,264.1 456.9,255.7 458.1,247.5 459.3,239.3 460.4,231.4 461.6,223.7 462.8,216.1 464.0,208.9 465.1,201.9 466.3,195.2 467.5,188.8 468.7,182.8 469.8,177.1 471.0,171.8 472.2,166.9 473.3,162.5 474.5,158.4 475.7,154.9 476.9,151.7 478.0,149.1 479.2,146.9 480.4,145.2 481.6,143.9 482.7,143.2 483.9,142.9 485.1,143.2 486.3,143.9 487.4,145.1 488.6,146.8 489.8,148.9 490.9,151.5 492.1,154.6 493.3,158.0 494.5,162.0 495.6,166.3 496.8,171.0 498.0,176.0 499.2,181.4 500.3,187.2 501.5,193.3 502.7,199.6 503.9,206.2 505.0,213.1 506.2,220.1 507.4,227.4 508.5,234.8 509.7,242.3 510.9,250.0 512.1,257.7 513.2,265.5 514.4,273.3 515.6,281.1 516.8,288.9 517.9,296.6 519.1,304.3 520.3,311.8 521.5,319.1 522.6,326.4 523.8,333.4 525.0,340.2 526.1,346.7 527.3,353.0 528.5,359.1 529.7,364.8 530.8,370.2 532.0,375.2 533.2,379.9 534.4,384.2 535.5,388.2 536.7,391.7 537.9,394.8 539.1,397.5 540.2,399.8 541.4,401.6 542.6,403.0 543.7,404.0 544.9,404.5 546.1,404.5 547.3,404.1 548.4,403.3 549.6,402.0 550.8,400.3 552.0,398.2 553.1,395.7 554.3,392.7 555.5,389.4 556.7,385.7 557.8,381.6 559.0,377.1 560.2,372.4 561.3,367.3 562.5,361.9 563.7,356.2 564.9,350.3 566.0,344.2 567.2,337.8 568.4,331.3 569.6,324.6 570.7,317.8 571.9,310.8 573.1,303.8 574.3,296.6 575.4,289.5 576.6,282.4 577.8,275.2 578.9,268.1 580.1,261.1 581.3,254.1 582.5,247.3 583.6,240.6 584.8,234.1 586.0,227.7 587.2,221.6 588.3,215.6 589.5,210.0 590.7,204.6 591.9,199.4 593.0,194.6 594.2,190.1 595.4,185.9 596.5,182.1 597.7,178.7 598.9,175.6 600.1,172.9 601.2,170.5 602.4,168.6 603.6,167.1 604.8,166.0 605.9,165.3 607.1,165.0 608.3,165.1 609.5,165.6 610.6,166.5 611.8,167.8 613.0,169.5 614.1,171.6 615.3,174.1 616.5,177.0 617.7,180.2 618.8,183.7 620.0,187.6 621.2,191.8 622.4,196.2 623.5,201.0 624.7,206.0 625.9,211.3 627.1,216.8 628.2,222.5 629.4,228.4 630.6,234.4 631.7,240.6 632.9,246.9 634.1,253.4 635.3,259.8 636.4,266.3 637.6,272.9 638.8,279.4 640.0,286.0 641.1,292.5 642.3,298.9 643.5,305.2 644.7,311.4 645.8,317.5 647.0,323.4 648.2,329.2 649.3,334.7 650.5,340.1 651.7,345.2 652.9,350.0 654.0,354.6 655.2,358.9 656.4,362.9 657.6,366.6 658.7,370.0 659.9,373.0 661.1,375.7 662.3,378.0 663.4,380.0 664.6,381.6 665.8,382.9 666.9,383.8 668.1,384.3 669.3,384.4 670.5,384.2 671.6,383.5 672.8,382.5 674.0,381.2 675.2,379.5 676.3,377.4 677.5,375.0 678.7,372.3 679.9,369.3 681.0,365.9 682.2,362.2 683.4,358.3 684.5,354.1 685.7,349.6 686.9,344.9 688.1,340.0 689.2,334.9 690.4,329.6 691.6,324.2 692.8,318.6 693.9,312.8 695.1,307.0 696.3,301.1 697.5,295.2 698.6,289.2 699.8,283.2" fill="none" stroke="#6A0F7A" stroke-width="3.3" stroke-linejoin="round" clip-path="url(#c)"/>
</g>
<path d="M114.3 279.5H699.8" stroke="#000" stroke-width="1.5" stroke-dasharray="7.6 5.05" fill="none"/>
<rect x="535.8" y="66.6" width="146.5" height="138.5" fill="#fff" stroke="#000" stroke-width="1.3"/>
<path d="M558.0 84.3l4.8 6.2l-4.8 6.2l-4.8 -6.2z" fill="#7E2F8E"/>
<text x="579.2" y="101.9" font-size="32.5">130 K</text>
<path d="M551.9 116.2h12.2l-6.1 10.7z" fill="#EDB120"/>
<text x="579.2" y="132.3" font-size="32.5">90 K</text>
<path d="M553.4 147.2h9.2v9.2h-9.2z" fill="#D95319"/>
<text x="579.2" y="163.2" font-size="32.5">85 K</text>
<circle cx="558.0" cy="182.8" r="4.7" fill="#0072BD"/>
<text x="579.2" y="194.2" font-size="32.5">5 K</text>
<text x="114.3" y="549.0" font-size="32.5" text-anchor="middle">0</text>
<text x="197.9" y="549.0" font-size="32.5" text-anchor="middle">1</text>
<text x="281.6" y="549.0" font-size="32.5" text-anchor="middle">2</text>
<text x="365.2" y="549.0" font-size="32.5" text-anchor="middle">3</text>
<text x="448.9" y="549.0" font-size="32.5" text-anchor="middle">4</text>
<text x="532.5" y="549.0" font-size="32.5" text-anchor="middle">5</text>
<text x="616.2" y="549.0" font-size="32.5" text-anchor="middle">6</text>
<text x="699.8" y="549.0" font-size="32.5" text-anchor="middle">7</text>
<text x="103.2" y="60.1" font-size="32.5" text-anchor="end">0.3</text>
<text x="103.2" y="137.1" font-size="32.5" text-anchor="end">0.2</text>
<text x="105.6" y="214.1" font-size="32.5" text-anchor="end">0.1</text>
<text x="103.2" y="291.1" font-size="32.5" text-anchor="end">0</text>
<text x="105.6" y="368.1" font-size="32.5" text-anchor="end">-0.1</text>
<text x="103.2" y="445.1" font-size="32.5" text-anchor="end">-0.2</text>
<text x="103.2" y="522.1" font-size="32.5" text-anchor="end">-0.3</text>
<text x="407" y="29" font-size="32.5" text-anchor="middle">x = 1, p = 0 kbar</text>
<text x="407.4" y="583.7" font-size="32.7" text-anchor="middle">Time [µs]</text>
<g transform="translate(27.7,329.5) rotate(-90)"><text x="0" y="0" font-size="32">A</text><text x="21.5" y="7" font-size="16" style="stroke-width:0.1px">0</text><text x="30.3" y="0" font-size="32">P</text><text x="51.2" y="7" font-size="16" style="stroke-width:0.1px">TF</text><text x="71.7" y="0" font-size="32">(t)</text></g>
</svg>
</body></html>
